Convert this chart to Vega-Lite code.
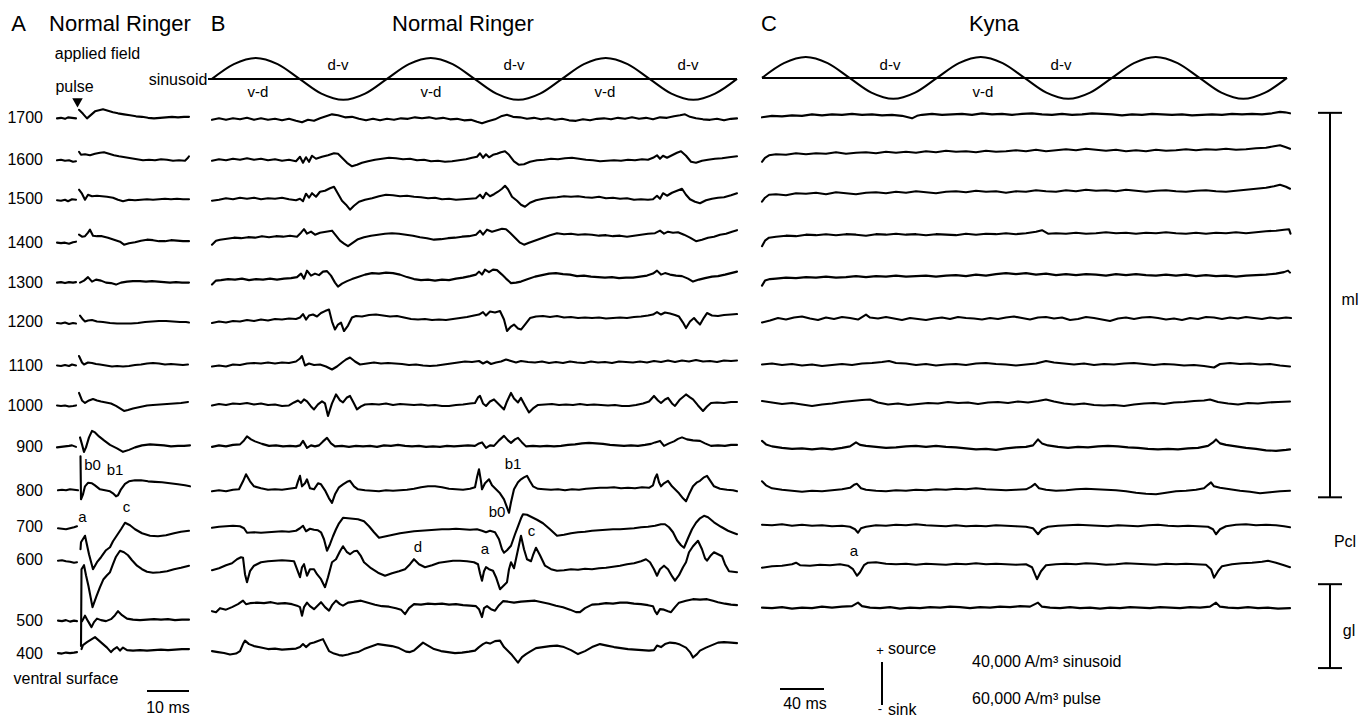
{
"$schema":"https://vega.github.io/schema/vega-lite/v6.json",
"width":1367,"height":718,
"autosize":{"type":"fit","contains":"padding"},
"padding":0,
"background":"white",
"config":{"view":{"stroke":null},"text":{"font":"Liberation Sans","color":"#000"}},
"encoding":{
"x":{"field":"x","type":"quantitative","scale":{"domain":[0,1367],"nice":false,"zero":false},"axis":null},
"y":{"field":"y","type":"quantitative","scale":{"domain":[0,718],"reverse":true,"nice":false,"zero":false},"axis":null}
},
"datasets":{
"traces":[
{"s":"a17p","x":57,"y":118.5},{"s":"a17p","x":61,"y":118},{"s":"a17p","x":65,"y":119},{"s":"a17p","x":68,"y":117.5},{"s":"a17p","x":72,"y":118},{"s":"a17p","x":76,"y":118.5},
{"s":"a17","x":79,"y":110},{"s":"a17","x":83,"y":114},{"s":"a17","x":87,"y":118.5},{"s":"a17","x":91,"y":115},{"s":"a17","x":95,"y":111.5},{"s":"a17","x":99,"y":110.5},{"s":"a17","x":103,"y":109.5},{"s":"a17","x":108,"y":111},{"s":"a17","x":113,"y":112.5},{"s":"a17","x":118,"y":113.5},{"s":"a17","x":124,"y":114.5},{"s":"a17","x":130,"y":115.5},{"s":"a17","x":136,"y":116.5},{"s":"a17","x":142,"y":117},{"s":"a17","x":148,"y":118},{"s":"a17","x":154,"y":118.5},{"s":"a17","x":160,"y":118},{"s":"a17","x":166,"y":117.5},{"s":"a17","x":172,"y":117},{"s":"a17","x":178,"y":117.5},{"s":"a17","x":184,"y":117},{"s":"a17","x":189,"y":117},
{"s":"a16p","x":57,"y":160.5},{"s":"a16p","x":61,"y":160},{"s":"a16p","x":65,"y":161},{"s":"a16p","x":69,"y":160.5},{"s":"a16p","x":73,"y":162},{"s":"a16p","x":76,"y":161.5},
{"s":"a16","x":79,"y":152},{"s":"a16","x":81,"y":155},{"s":"a16","x":85,"y":154.5},{"s":"a16","x":90,"y":155.5},{"s":"a16","x":95,"y":154},{"s":"a16","x":100,"y":153},{"s":"a16","x":104,"y":152.5},{"s":"a16","x":109,"y":154},{"s":"a16","x":114,"y":155.5},{"s":"a16","x":119,"y":156.5},{"s":"a16","x":125,"y":157.5},{"s":"a16","x":131,"y":158.5},{"s":"a16","x":137,"y":159.5},{"s":"a16","x":143,"y":160.5},{"s":"a16","x":149,"y":160},{"s":"a16","x":155,"y":160.5},{"s":"a16","x":161,"y":159.5},{"s":"a16","x":167,"y":160},{"s":"a16","x":173,"y":161},{"s":"a16","x":179,"y":160.5},{"s":"a16","x":185,"y":161},{"s":"a16","x":188,"y":158},{"s":"a16","x":189,"y":156.5},
{"s":"a15p","x":57,"y":200.5},{"s":"a15p","x":61,"y":201},{"s":"a15p","x":65,"y":200},{"s":"a15p","x":68,"y":201.5},{"s":"a15p","x":72,"y":199.5},{"s":"a15p","x":76,"y":200},
{"s":"a15","x":79,"y":190},{"s":"a15","x":82,"y":194},{"s":"a15","x":85,"y":200},{"s":"a15","x":88,"y":195},{"s":"a15","x":92,"y":196.5},{"s":"a15","x":97,"y":196},{"s":"a15","x":102,"y":196.5},{"s":"a15","x":107,"y":197},{"s":"a15","x":113,"y":198},{"s":"a15","x":118,"y":200},{"s":"a15","x":123,"y":201.5},{"s":"a15","x":129,"y":200},{"s":"a15","x":135,"y":200.5},{"s":"a15","x":141,"y":200},{"s":"a15","x":147,"y":199.5},{"s":"a15","x":153,"y":200},{"s":"a15","x":159,"y":199.5},{"s":"a15","x":165,"y":199},{"s":"a15","x":171,"y":199.5},{"s":"a15","x":177,"y":199},{"s":"a15","x":183,"y":199.5},{"s":"a15","x":189,"y":199.5},
{"s":"a14p","x":57,"y":243},{"s":"a14p","x":61,"y":243.5},{"s":"a14p","x":65,"y":243},{"s":"a14p","x":69,"y":244},{"s":"a14p","x":73,"y":242.5},{"s":"a14p","x":76,"y":242},
{"s":"a14","x":79,"y":235},{"s":"a14","x":82,"y":237},{"s":"a14","x":85,"y":236.5},{"s":"a14","x":88,"y":233},{"s":"a14","x":90,"y":230},{"s":"a14","x":93,"y":236},{"s":"a14","x":97,"y":236.5},{"s":"a14","x":102,"y":236.5},{"s":"a14","x":108,"y":238},{"s":"a14","x":114,"y":240},{"s":"a14","x":120,"y":242},{"s":"a14","x":124,"y":245},{"s":"a14","x":129,"y":243.5},{"s":"a14","x":135,"y":242.5},{"s":"a14","x":141,"y":241},{"s":"a14","x":147,"y":240},{"s":"a14","x":153,"y":240.5},{"s":"a14","x":159,"y":241.5},{"s":"a14","x":165,"y":241.5},{"s":"a14","x":171,"y":240.5},{"s":"a14","x":177,"y":241},{"s":"a14","x":183,"y":241.5},{"s":"a14","x":189,"y":241.5},
{"s":"a13p","x":57,"y":283},{"s":"a13p","x":61,"y":282.5},{"s":"a13p","x":65,"y":283.5},{"s":"a13p","x":69,"y":282.5},{"s":"a13p","x":73,"y":283},{"s":"a13p","x":76,"y":282.5},
{"s":"a13","x":80,"y":283},{"s":"a13","x":84,"y":281},{"s":"a13","x":88,"y":277.5},{"s":"a13","x":92,"y":282},{"s":"a13","x":96,"y":280},{"s":"a13","x":101,"y":281},{"s":"a13","x":106,"y":283},{"s":"a13","x":111,"y":283.5},{"s":"a13","x":116,"y":285},{"s":"a13","x":121,"y":283},{"s":"a13","x":127,"y":282},{"s":"a13","x":133,"y":281.5},{"s":"a13","x":140,"y":281.5},{"s":"a13","x":146,"y":282},{"s":"a13","x":152,"y":281.5},{"s":"a13","x":158,"y":282},{"s":"a13","x":164,"y":282.5},{"s":"a13","x":170,"y":283},{"s":"a13","x":176,"y":282.5},{"s":"a13","x":182,"y":283},{"s":"a13","x":189,"y":283},
{"s":"a12p","x":57,"y":323.5},{"s":"a12p","x":61,"y":324},{"s":"a12p","x":65,"y":323},{"s":"a12p","x":69,"y":324.5},{"s":"a12p","x":73,"y":323.5},{"s":"a12p","x":76,"y":324},
{"s":"a12","x":80,"y":316},{"s":"a12","x":83,"y":320},{"s":"a12","x":85,"y":322},{"s":"a12","x":88,"y":321},{"s":"a12","x":92,"y":320.5},{"s":"a12","x":97,"y":322},{"s":"a12","x":103,"y":322.5},{"s":"a12","x":110,"y":323.5},{"s":"a12","x":117,"y":324},{"s":"a12","x":124,"y":324},{"s":"a12","x":131,"y":324},{"s":"a12","x":138,"y":323.5},{"s":"a12","x":145,"y":322.5},{"s":"a12","x":152,"y":322},{"s":"a12","x":159,"y":321.5},{"s":"a12","x":166,"y":321.5},{"s":"a12","x":173,"y":322},{"s":"a12","x":180,"y":322.5},{"s":"a12","x":186,"y":322.5},{"s":"a12","x":189,"y":323},
{"s":"a11p","x":57,"y":366},{"s":"a11p","x":61,"y":366.5},{"s":"a11p","x":65,"y":365.5},{"s":"a11p","x":69,"y":366.5},{"s":"a11p","x":72,"y":365},{"s":"a11p","x":76,"y":366},
{"s":"a11","x":79,"y":356.5},{"s":"a11","x":82,"y":363},{"s":"a11","x":84,"y":365},{"s":"a11","x":88,"y":363},{"s":"a11","x":92,"y":363.5},{"s":"a11","x":96,"y":364.5},{"s":"a11","x":100,"y":365},{"s":"a11","x":106,"y":366},{"s":"a11","x":112,"y":367},{"s":"a11","x":117,"y":366.5},{"s":"a11","x":123,"y":367},{"s":"a11","x":129,"y":366.5},{"s":"a11","x":135,"y":365.5},{"s":"a11","x":141,"y":365},{"s":"a11","x":147,"y":364},{"s":"a11","x":153,"y":363.5},{"s":"a11","x":159,"y":364},{"s":"a11","x":165,"y":365},{"s":"a11","x":171,"y":364.5},{"s":"a11","x":177,"y":365},{"s":"a11","x":183,"y":365.5},{"s":"a11","x":188,"y":365},
{"s":"a10p","x":57,"y":406},{"s":"a10p","x":61,"y":406.5},{"s":"a10p","x":65,"y":406},{"s":"a10p","x":69,"y":407},{"s":"a10p","x":73,"y":406.5},{"s":"a10p","x":76,"y":406},
{"s":"a10","x":79,"y":393.5},{"s":"a10","x":82,"y":401},{"s":"a10","x":85,"y":403.5},{"s":"a10","x":89,"y":401},{"s":"a10","x":93,"y":399.5},{"s":"a10","x":97,"y":401},{"s":"a10","x":101,"y":402},{"s":"a10","x":106,"y":403},{"s":"a10","x":111,"y":404},{"s":"a10","x":116,"y":406.5},{"s":"a10","x":120,"y":409},{"s":"a10","x":124,"y":411.5},{"s":"a10","x":128,"y":410.5},{"s":"a10","x":133,"y":409},{"s":"a10","x":140,"y":407.5},{"s":"a10","x":147,"y":406},{"s":"a10","x":153,"y":405.5},{"s":"a10","x":160,"y":405},{"s":"a10","x":167,"y":404.5},{"s":"a10","x":174,"y":404},{"s":"a10","x":181,"y":403.5},{"s":"a10","x":188,"y":402.5},
{"s":"a09p","x":57,"y":448},{"s":"a09p","x":61,"y":447.5},{"s":"a09p","x":65,"y":447},{"s":"a09p","x":69,"y":446.5},{"s":"a09p","x":72,"y":446},{"s":"a09p","x":76,"y":447.5},
{"s":"a09","x":80,"y":438},{"s":"a09","x":82,"y":445},{"s":"a09","x":84,"y":452.5},{"s":"a09","x":86,"y":448},{"s":"a09","x":89,"y":438},{"s":"a09","x":92,"y":431.5},{"s":"a09","x":95,"y":433},{"s":"a09","x":99,"y":437},{"s":"a09","x":104,"y":441},{"s":"a09","x":110,"y":445.5},{"s":"a09","x":117,"y":449},{"s":"a09","x":123,"y":452.5},{"s":"a09","x":129,"y":450.5},{"s":"a09","x":135,"y":448},{"s":"a09","x":142,"y":446},{"s":"a09","x":150,"y":445},{"s":"a09","x":157,"y":445.5},{"s":"a09","x":164,"y":446},{"s":"a09","x":171,"y":447},{"s":"a09","x":178,"y":446.5},{"s":"a09","x":184,"y":446.5},{"s":"a09","x":190,"y":446},
{"s":"a08p","x":58,"y":491},{"s":"a08p","x":62,"y":490.5},{"s":"a08p","x":66,"y":491},{"s":"a08p","x":70,"y":490},{"s":"a08p","x":74,"y":490.5},{"s":"a08p","x":78,"y":491},
{"s":"a08","x":80.5,"y":457},{"s":"a08","x":81,"y":500},{"s":"a08","x":83,"y":495},{"s":"a08","x":85,"y":487},{"s":"a08","x":88,"y":483.5},{"s":"a08","x":92,"y":484},{"s":"a08","x":95,"y":486},{"s":"a08","x":100,"y":490},{"s":"a08","x":105,"y":491},{"s":"a08","x":110,"y":492},{"s":"a08","x":113,"y":494},{"s":"a08","x":116,"y":497},{"s":"a08","x":118,"y":496},{"s":"a08","x":121,"y":490},{"s":"a08","x":125,"y":484.5},{"s":"a08","x":129,"y":482},{"s":"a08","x":135,"y":481},{"s":"a08","x":141,"y":481},{"s":"a08","x":148,"y":482},{"s":"a08","x":155,"y":482.5},{"s":"a08","x":162,"y":483},{"s":"a08","x":170,"y":484},{"s":"a08","x":178,"y":485},{"s":"a08","x":185,"y":486},{"s":"a08","x":190,"y":487},
{"s":"a07p","x":58,"y":529},{"s":"a07p","x":62,"y":529.5},{"s":"a07p","x":66,"y":530},{"s":"a07p","x":70,"y":529},{"s":"a07p","x":74,"y":528},{"s":"a07p","x":77,"y":527},
{"s":"a07","x":80.5,"y":550},{"s":"a07","x":81,"y":543},{"s":"a07","x":85,"y":536.5},{"s":"a07","x":89,"y":555},{"s":"a07","x":93,"y":570},{"s":"a07","x":97,"y":563},{"s":"a07","x":101,"y":558},{"s":"a07","x":106,"y":551},{"s":"a07","x":110,"y":548},{"s":"a07","x":113,"y":542},{"s":"a07","x":117,"y":536},{"s":"a07","x":121,"y":530},{"s":"a07","x":125,"y":523.5},{"s":"a07","x":130,"y":526},{"s":"a07","x":135,"y":530},{"s":"a07","x":142,"y":534},{"s":"a07","x":150,"y":536.5},{"s":"a07","x":158,"y":537},{"s":"a07","x":166,"y":536},{"s":"a07","x":174,"y":534},{"s":"a07","x":181,"y":532.5},{"s":"a07","x":189,"y":531.5},
{"s":"a06p","x":58,"y":561.5},{"s":"a06p","x":62,"y":561},{"s":"a06p","x":66,"y":562},{"s":"a06p","x":70,"y":562.5},{"s":"a06p","x":74,"y":563.5},{"s":"a06p","x":77,"y":563},
{"s":"a06","x":81,"y":647},{"s":"a06","x":81.5,"y":570},{"s":"a06","x":84,"y":566},{"s":"a06","x":86,"y":576},{"s":"a06","x":88.5,"y":587},{"s":"a06","x":92.5,"y":608},{"s":"a06","x":96.5,"y":597},{"s":"a06","x":100,"y":588},{"s":"a06","x":103.5,"y":580},{"s":"a06","x":107,"y":576},{"s":"a06","x":110,"y":573},{"s":"a06","x":113,"y":565},{"s":"a06","x":116,"y":557.5},{"s":"a06","x":120,"y":551.5},{"s":"a06","x":124,"y":553},{"s":"a06","x":128,"y":556},{"s":"a06","x":132,"y":561},{"s":"a06","x":137,"y":566.5},{"s":"a06","x":142,"y":570},{"s":"a06","x":147,"y":572.5},{"s":"a06","x":153,"y":573.5},{"s":"a06","x":160,"y":573},{"s":"a06","x":167,"y":572},{"s":"a06","x":174,"y":570},{"s":"a06","x":181,"y":568.5},{"s":"a06","x":189,"y":566.5},
{"s":"a05p","x":58,"y":621.5},{"s":"a05p","x":62,"y":622},{"s":"a05p","x":66,"y":621},{"s":"a05p","x":70,"y":622.5},{"s":"a05p","x":74,"y":621.5},{"s":"a05p","x":77,"y":622},
{"s":"a05","x":82,"y":622},{"s":"a05","x":85,"y":616.5},{"s":"a05","x":88,"y":622},{"s":"a05","x":91.5,"y":628},{"s":"a05","x":94,"y":623},{"s":"a05","x":97,"y":619.5},{"s":"a05","x":101,"y":621},{"s":"a05","x":106,"y":622},{"s":"a05","x":111,"y":620},{"s":"a05","x":115,"y":616},{"s":"a05","x":118,"y":612},{"s":"a05","x":122,"y":616},{"s":"a05","x":127,"y":619.5},{"s":"a05","x":133,"y":620.5},{"s":"a05","x":140,"y":621},{"s":"a05","x":147,"y":620.5},{"s":"a05","x":154,"y":620},{"s":"a05","x":161,"y":620.5},{"s":"a05","x":168,"y":620},{"s":"a05","x":175,"y":621},{"s":"a05","x":182,"y":620.5},{"s":"a05","x":189,"y":620.5},
{"s":"a04p","x":58,"y":654},{"s":"a04p","x":62,"y":654.5},{"s":"a04p","x":66,"y":653.5},{"s":"a04p","x":70,"y":654},{"s":"a04p","x":74,"y":653.5},{"s":"a04p","x":77,"y":653},
{"s":"a04","x":81.5,"y":650},{"s":"a04","x":83,"y":646},{"s":"a04","x":87,"y":643},{"s":"a04","x":91,"y":640.5},{"s":"a04","x":95,"y":638},{"s":"a04","x":99,"y":641.5},{"s":"a04","x":103,"y":645},{"s":"a04","x":107,"y":648.5},{"s":"a04","x":111,"y":653},{"s":"a04","x":114,"y":650},{"s":"a04","x":117,"y":648},{"s":"a04","x":120,"y":651.5},{"s":"a04","x":123,"y":648.5},{"s":"a04","x":127,"y":651},{"s":"a04","x":133,"y":651.5},{"s":"a04","x":140,"y":651},{"s":"a04","x":147,"y":651.5},{"s":"a04","x":154,"y":651},{"s":"a04","x":161,"y":650.5},{"s":"a04","x":168,"y":651},{"s":"a04","x":175,"y":650.5},{"s":"a04","x":182,"y":650},{"s":"a04","x":189,"y":650},

{"s":"b17","x":212,"y":120},{"s":"b17","x":219,"y":118.5},{"s":"b17","x":226,"y":120},{"s":"b17","x":233,"y":118.5},{"s":"b17","x":240,"y":119.5},{"s":"b17","x":247,"y":118},{"s":"b17","x":254,"y":120},{"s":"b17","x":261,"y":118.5},{"s":"b17","x":268,"y":120},{"s":"b17","x":275,"y":119},{"s":"b17","x":282,"y":120.5},{"s":"b17","x":289,"y":119},{"s":"b17","x":296,"y":121},{"s":"b17","x":302,"y":122.5},{"s":"b17","x":308,"y":120},{"s":"b17","x":314,"y":121},{"s":"b17","x":320,"y":118.5},{"s":"b17","x":326,"y":116.5},{"s":"b17","x":332,"y":114.5},{"s":"b17","x":338,"y":115.5},{"s":"b17","x":345,"y":117.5},{"s":"b17","x":352,"y":117},{"s":"b17","x":359,"y":119},{"s":"b17","x":366,"y":120.5},{"s":"b17","x":373,"y":119},{"s":"b17","x":380,"y":120.5},{"s":"b17","x":387,"y":119},{"s":"b17","x":394,"y":120},{"s":"b17","x":401,"y":118.5},{"s":"b17","x":408,"y":119},{"s":"b17","x":415,"y":117.5},{"s":"b17","x":422,"y":118.5},{"s":"b17","x":429,"y":117.5},{"s":"b17","x":436,"y":119},{"s":"b17","x":443,"y":118},{"s":"b17","x":450,"y":119.5},{"s":"b17","x":457,"y":119},{"s":"b17","x":464,"y":120.5},{"s":"b17","x":471,"y":120},{"s":"b17","x":477,"y":122},{"s":"b17","x":482,"y":123.5},{"s":"b17","x":488,"y":121.5},{"s":"b17","x":495,"y":119.5},{"s":"b17","x":501,"y":116.5},{"s":"b17","x":507,"y":115},{"s":"b17","x":513,"y":117},{"s":"b17","x":520,"y":117.5},{"s":"b17","x":527,"y":119},{"s":"b17","x":534,"y":118},{"s":"b17","x":541,"y":119.5},{"s":"b17","x":548,"y":118.5},{"s":"b17","x":555,"y":120},{"s":"b17","x":562,"y":119},{"s":"b17","x":569,"y":120.5},{"s":"b17","x":576,"y":121},{"s":"b17","x":583,"y":119.5},{"s":"b17","x":590,"y":120.5},{"s":"b17","x":597,"y":119},{"s":"b17","x":604,"y":118.5},{"s":"b17","x":611,"y":119.5},{"s":"b17","x":618,"y":118},{"s":"b17","x":625,"y":119},{"s":"b17","x":632,"y":117.5},{"s":"b17","x":639,"y":119},{"s":"b17","x":646,"y":118},{"s":"b17","x":653,"y":119.5},{"s":"b17","x":660,"y":117.5},{"s":"b17","x":667,"y":118},{"s":"b17","x":674,"y":116.5},{"s":"b17","x":680,"y":115.5},{"s":"b17","x":685,"y":114.5},{"s":"b17","x":690,"y":117},{"s":"b17","x":696,"y":118.5},{"s":"b17","x":703,"y":119.5},{"s":"b17","x":710,"y":120},{"s":"b17","x":717,"y":119},{"s":"b17","x":724,"y":120.5},{"s":"b17","x":731,"y":119},{"s":"b17","x":737,"y":118.5},

{"s":"b16","x":212,"y":161},{"s":"b16","x":219,"y":159.5},{"s":"b16","x":226,"y":160.5},{"s":"b16","x":233,"y":159},{"s":"b16","x":240,"y":160},{"s":"b16","x":247,"y":158.5},{"s":"b16","x":254,"y":160},{"s":"b16","x":261,"y":159},{"s":"b16","x":268,"y":160.5},{"s":"b16","x":275,"y":159.5},{"s":"b16","x":282,"y":161},{"s":"b16","x":289,"y":160},{"s":"b16","x":296,"y":161.5},{"s":"b16","x":300,"y":157},{"s":"b16","x":303,"y":163},{"s":"b16","x":306,"y":157.5},{"s":"b16","x":309,"y":162},{"s":"b16","x":312,"y":156},{"s":"b16","x":316,"y":159},{"s":"b16","x":322,"y":157},{"s":"b16","x":328,"y":155.5},{"s":"b16","x":334,"y":153.5},{"s":"b16","x":338,"y":154},{"s":"b16","x":342,"y":158},{"s":"b16","x":347,"y":163},{"s":"b16","x":352,"y":166.5},{"s":"b16","x":357,"y":165},{"s":"b16","x":362,"y":163},{"s":"b16","x":368,"y":161.5},{"s":"b16","x":375,"y":160},{"s":"b16","x":382,"y":159},{"s":"b16","x":389,"y":158},{"s":"b16","x":396,"y":158.5},{"s":"b16","x":403,"y":159.5},{"s":"b16","x":410,"y":159},{"s":"b16","x":417,"y":160.5},{"s":"b16","x":424,"y":160},{"s":"b16","x":431,"y":161.5},{"s":"b16","x":438,"y":161},{"s":"b16","x":445,"y":162},{"s":"b16","x":452,"y":161.5},{"s":"b16","x":459,"y":160.5},{"s":"b16","x":466,"y":159.5},{"s":"b16","x":472,"y":158},{"s":"b16","x":477,"y":157},{"s":"b16","x":480,"y":153.5},{"s":"b16","x":483,"y":158},{"s":"b16","x":486,"y":154.5},{"s":"b16","x":489,"y":157.5},{"s":"b16","x":493,"y":155},{"s":"b16","x":497,"y":154},{"s":"b16","x":501,"y":152.5},{"s":"b16","x":505,"y":151.5},{"s":"b16","x":509,"y":155},{"s":"b16","x":514,"y":161.5},{"s":"b16","x":519,"y":165},{"s":"b16","x":524,"y":164.5},{"s":"b16","x":530,"y":162},{"s":"b16","x":537,"y":160.5},{"s":"b16","x":544,"y":160},{"s":"b16","x":551,"y":159},{"s":"b16","x":558,"y":159.5},{"s":"b16","x":565,"y":158.5},{"s":"b16","x":572,"y":158},{"s":"b16","x":579,"y":159},{"s":"b16","x":586,"y":160},{"s":"b16","x":593,"y":160.5},{"s":"b16","x":600,"y":161.5},{"s":"b16","x":607,"y":161},{"s":"b16","x":614,"y":160.5},{"s":"b16","x":621,"y":161},{"s":"b16","x":628,"y":160},{"s":"b16","x":635,"y":160.5},{"s":"b16","x":642,"y":159.5},{"s":"b16","x":648,"y":160},{"s":"b16","x":653,"y":158},{"s":"b16","x":657,"y":155.5},{"s":"b16","x":660,"y":159},{"s":"b16","x":663,"y":156},{"s":"b16","x":667,"y":158},{"s":"b16","x":672,"y":155.5},{"s":"b16","x":677,"y":153},{"s":"b16","x":681,"y":151.5},{"s":"b16","x":686,"y":156},{"s":"b16","x":691,"y":162},{"s":"b16","x":696,"y":163},{"s":"b16","x":702,"y":161},{"s":"b16","x":708,"y":160},{"s":"b16","x":715,"y":159},{"s":"b16","x":722,"y":158.5},{"s":"b16","x":729,"y":157.5},{"s":"b16","x":737,"y":156.5},

{"s":"b15","x":212,"y":201},{"s":"b15","x":219,"y":200},{"s":"b15","x":226,"y":198.5},{"s":"b15","x":233,"y":199.5},{"s":"b15","x":240,"y":198},{"s":"b15","x":247,"y":199},{"s":"b15","x":254,"y":198},{"s":"b15","x":261,"y":199.5},{"s":"b15","x":268,"y":198.5},{"s":"b15","x":275,"y":199},{"s":"b15","x":282,"y":198},{"s":"b15","x":289,"y":199.5},{"s":"b15","x":296,"y":200.5},{"s":"b15","x":300,"y":199},{"s":"b15","x":303,"y":201.5},{"s":"b15","x":306,"y":194},{"s":"b15","x":309,"y":198},{"s":"b15","x":312,"y":193.5},{"s":"b15","x":316,"y":197},{"s":"b15","x":320,"y":192},{"s":"b15","x":325,"y":191},{"s":"b15","x":330,"y":188.5},{"s":"b15","x":334,"y":187},{"s":"b15","x":338,"y":194},{"s":"b15","x":342,"y":201},{"s":"b15","x":346,"y":205},{"s":"b15","x":350,"y":210},{"s":"b15","x":354,"y":206},{"s":"b15","x":359,"y":202},{"s":"b15","x":365,"y":200},{"s":"b15","x":372,"y":198.5},{"s":"b15","x":379,"y":196.5},{"s":"b15","x":386,"y":195},{"s":"b15","x":393,"y":195.5},{"s":"b15","x":400,"y":196.5},{"s":"b15","x":407,"y":196},{"s":"b15","x":414,"y":197},{"s":"b15","x":421,"y":197.5},{"s":"b15","x":428,"y":198.5},{"s":"b15","x":435,"y":198},{"s":"b15","x":442,"y":199.5},{"s":"b15","x":449,"y":199},{"s":"b15","x":456,"y":200},{"s":"b15","x":463,"y":199.5},{"s":"b15","x":470,"y":199},{"s":"b15","x":476,"y":198.5},{"s":"b15","x":480,"y":195},{"s":"b15","x":483,"y":198.5},{"s":"b15","x":486,"y":193},{"s":"b15","x":490,"y":196.5},{"s":"b15","x":494,"y":194.5},{"s":"b15","x":498,"y":192},{"s":"b15","x":502,"y":189},{"s":"b15","x":505,"y":186},{"s":"b15","x":508,"y":189.5},{"s":"b15","x":512,"y":197},{"s":"b15","x":517,"y":201},{"s":"b15","x":521,"y":205},{"s":"b15","x":525,"y":207},{"s":"b15","x":530,"y":203},{"s":"b15","x":536,"y":200.5},{"s":"b15","x":543,"y":199},{"s":"b15","x":550,"y":198},{"s":"b15","x":557,"y":197.5},{"s":"b15","x":564,"y":196.5},{"s":"b15","x":571,"y":197},{"s":"b15","x":578,"y":196.5},{"s":"b15","x":585,"y":197.5},{"s":"b15","x":592,"y":198},{"s":"b15","x":599,"y":197},{"s":"b15","x":606,"y":198.5},{"s":"b15","x":613,"y":198},{"s":"b15","x":620,"y":199},{"s":"b15","x":627,"y":198.5},{"s":"b15","x":634,"y":200},{"s":"b15","x":641,"y":199.5},{"s":"b15","x":648,"y":200},{"s":"b15","x":653,"y":199.5},{"s":"b15","x":657,"y":196},{"s":"b15","x":660,"y":199},{"s":"b15","x":663,"y":193.5},{"s":"b15","x":667,"y":196},{"s":"b15","x":672,"y":193},{"s":"b15","x":677,"y":191},{"s":"b15","x":682,"y":189},{"s":"b15","x":686,"y":195},{"s":"b15","x":690,"y":199.5},{"s":"b15","x":695,"y":202},{"s":"b15","x":700,"y":203.5},{"s":"b15","x":706,"y":200.5},{"s":"b15","x":712,"y":199},{"s":"b15","x":718,"y":198},{"s":"b15","x":724,"y":197.5},{"s":"b15","x":731,"y":195.5},{"s":"b15","x":737,"y":193.5},

{"s":"b14","x":212,"y":245},{"s":"b14","x":216,"y":241},{"s":"b14","x":220,"y":240},{"s":"b14","x":227,"y":239},{"s":"b14","x":234,"y":238},{"s":"b14","x":241,"y":238.5},{"s":"b14","x":248,"y":237.5},{"s":"b14","x":255,"y":238},{"s":"b14","x":262,"y":236.5},{"s":"b14","x":269,"y":237.5},{"s":"b14","x":276,"y":236.5},{"s":"b14","x":283,"y":237},{"s":"b14","x":290,"y":236},{"s":"b14","x":297,"y":237},{"s":"b14","x":301,"y":233},{"s":"b14","x":304,"y":229.5},{"s":"b14","x":307,"y":234},{"s":"b14","x":311,"y":232},{"s":"b14","x":315,"y":235},{"s":"b14","x":320,"y":233},{"s":"b14","x":326,"y":232},{"s":"b14","x":332,"y":231},{"s":"b14","x":336,"y":236},{"s":"b14","x":340,"y":241},{"s":"b14","x":344,"y":244},{"s":"b14","x":348,"y":246.5},{"s":"b14","x":353,"y":243},{"s":"b14","x":358,"y":239.5},{"s":"b14","x":364,"y":237.5},{"s":"b14","x":371,"y":236},{"s":"b14","x":378,"y":235},{"s":"b14","x":385,"y":234},{"s":"b14","x":392,"y":233.5},{"s":"b14","x":399,"y":234},{"s":"b14","x":406,"y":235},{"s":"b14","x":413,"y":236},{"s":"b14","x":420,"y":237.5},{"s":"b14","x":427,"y":238.5},{"s":"b14","x":434,"y":240},{"s":"b14","x":441,"y":239.5},{"s":"b14","x":448,"y":238.5},{"s":"b14","x":455,"y":238},{"s":"b14","x":462,"y":237},{"s":"b14","x":469,"y":236.5},{"s":"b14","x":476,"y":235},{"s":"b14","x":480,"y":231},{"s":"b14","x":483,"y":235},{"s":"b14","x":487,"y":230},{"s":"b14","x":492,"y":232},{"s":"b14","x":497,"y":230.5},{"s":"b14","x":502,"y":229},{"s":"b14","x":506,"y":229.5},{"s":"b14","x":510,"y":233},{"s":"b14","x":515,"y":238},{"s":"b14","x":520,"y":243},{"s":"b14","x":524,"y":245},{"s":"b14","x":529,"y":243},{"s":"b14","x":536,"y":240.5},{"s":"b14","x":543,"y":238},{"s":"b14","x":550,"y":235.5},{"s":"b14","x":557,"y":233.5},{"s":"b14","x":564,"y":234.5},{"s":"b14","x":571,"y":234},{"s":"b14","x":578,"y":235},{"s":"b14","x":585,"y":234.5},{"s":"b14","x":592,"y":235},{"s":"b14","x":599,"y":236},{"s":"b14","x":606,"y":235.5},{"s":"b14","x":613,"y":236.5},{"s":"b14","x":620,"y":236},{"s":"b14","x":627,"y":237},{"s":"b14","x":634,"y":236},{"s":"b14","x":641,"y":235},{"s":"b14","x":648,"y":234},{"s":"b14","x":655,"y":233.5},{"s":"b14","x":660,"y":231},{"s":"b14","x":664,"y":234},{"s":"b14","x":668,"y":232},{"s":"b14","x":673,"y":233},{"s":"b14","x":678,"y":232.5},{"s":"b14","x":684,"y":235},{"s":"b14","x":690,"y":238},{"s":"b14","x":696,"y":241.5},{"s":"b14","x":702,"y":240},{"s":"b14","x":708,"y":238},{"s":"b14","x":714,"y":237},{"s":"b14","x":720,"y":235},{"s":"b14","x":726,"y":234},{"s":"b14","x":732,"y":232},{"s":"b14","x":737,"y":230.5},

{"s":"b13","x":212,"y":285},{"s":"b13","x":216,"y":281},{"s":"b13","x":221,"y":280.5},{"s":"b13","x":228,"y":279.5},{"s":"b13","x":235,"y":280},{"s":"b13","x":242,"y":279},{"s":"b13","x":249,"y":280.5},{"s":"b13","x":256,"y":279.5},{"s":"b13","x":263,"y":280},{"s":"b13","x":270,"y":279},{"s":"b13","x":277,"y":280},{"s":"b13","x":284,"y":279},{"s":"b13","x":291,"y":278.5},{"s":"b13","x":297,"y":277.5},{"s":"b13","x":301,"y":274},{"s":"b13","x":304,"y":279},{"s":"b13","x":307,"y":271},{"s":"b13","x":311,"y":276},{"s":"b13","x":315,"y":274},{"s":"b13","x":319,"y":275.5},{"s":"b13","x":323,"y":272},{"s":"b13","x":327,"y":271.5},{"s":"b13","x":331,"y":276},{"s":"b13","x":335,"y":283},{"s":"b13","x":338,"y":287},{"s":"b13","x":342,"y":284},{"s":"b13","x":347,"y":281.5},{"s":"b13","x":352,"y":279.5},{"s":"b13","x":358,"y":277.5},{"s":"b13","x":365,"y":275},{"s":"b13","x":372,"y":273.5},{"s":"b13","x":379,"y":274},{"s":"b13","x":386,"y":273},{"s":"b13","x":393,"y":273.5},{"s":"b13","x":400,"y":275},{"s":"b13","x":407,"y":277.5},{"s":"b13","x":414,"y":279.5},{"s":"b13","x":421,"y":280.5},{"s":"b13","x":428,"y":280},{"s":"b13","x":435,"y":281},{"s":"b13","x":442,"y":280},{"s":"b13","x":449,"y":280.5},{"s":"b13","x":456,"y":279},{"s":"b13","x":463,"y":278},{"s":"b13","x":470,"y":276.5},{"s":"b13","x":476,"y":275},{"s":"b13","x":479,"y":272},{"s":"b13","x":482,"y":275},{"s":"b13","x":485,"y":270},{"s":"b13","x":489,"y":272.5},{"s":"b13","x":493,"y":270},{"s":"b13","x":497,"y":270.5},{"s":"b13","x":502,"y":275},{"s":"b13","x":506,"y":279},{"s":"b13","x":511,"y":283.5},{"s":"b13","x":516,"y":283},{"s":"b13","x":521,"y":282},{"s":"b13","x":528,"y":279.5},{"s":"b13","x":535,"y":277},{"s":"b13","x":542,"y":275.5},{"s":"b13","x":549,"y":274},{"s":"b13","x":556,"y":273.5},{"s":"b13","x":563,"y":274.5},{"s":"b13","x":570,"y":275},{"s":"b13","x":577,"y":276.5},{"s":"b13","x":584,"y":276},{"s":"b13","x":591,"y":277},{"s":"b13","x":598,"y":277.5},{"s":"b13","x":605,"y":278},{"s":"b13","x":612,"y":277.5},{"s":"b13","x":619,"y":278.5},{"s":"b13","x":626,"y":278},{"s":"b13","x":633,"y":278},{"s":"b13","x":640,"y":277},{"s":"b13","x":647,"y":276},{"s":"b13","x":653,"y":274},{"s":"b13","x":657,"y":271},{"s":"b13","x":661,"y":275},{"s":"b13","x":665,"y":273.5},{"s":"b13","x":670,"y":275},{"s":"b13","x":676,"y":276},{"s":"b13","x":682,"y":276.5},{"s":"b13","x":688,"y":279},{"s":"b13","x":693,"y":282},{"s":"b13","x":699,"y":280},{"s":"b13","x":705,"y":278.5},{"s":"b13","x":712,"y":277},{"s":"b13","x":718,"y":276.5},{"s":"b13","x":725,"y":275},{"s":"b13","x":731,"y":273.5},{"s":"b13","x":737,"y":272},

{"s":"b12","x":212,"y":323.5},{"s":"b12","x":219,"y":322},{"s":"b12","x":226,"y":323},{"s":"b12","x":233,"y":321.5},{"s":"b12","x":240,"y":322},{"s":"b12","x":247,"y":320.5},{"s":"b12","x":254,"y":321.5},{"s":"b12","x":261,"y":320},{"s":"b12","x":268,"y":321},{"s":"b12","x":275,"y":319.5},{"s":"b12","x":282,"y":320},{"s":"b12","x":289,"y":319},{"s":"b12","x":296,"y":319.5},{"s":"b12","x":300,"y":318},{"s":"b12","x":303,"y":314.5},{"s":"b12","x":306,"y":320},{"s":"b12","x":309,"y":316},{"s":"b12","x":313,"y":315},{"s":"b12","x":317,"y":317},{"s":"b12","x":321,"y":313.5},{"s":"b12","x":325,"y":311.5},{"s":"b12","x":329,"y":310},{"s":"b12","x":332,"y":322},{"s":"b12","x":335,"y":330},{"s":"b12","x":338,"y":325},{"s":"b12","x":341,"y":323},{"s":"b12","x":344,"y":331.5},{"s":"b12","x":348,"y":326},{"s":"b12","x":352,"y":318},{"s":"b12","x":356,"y":316.5},{"s":"b12","x":362,"y":317},{"s":"b12","x":369,"y":315.5},{"s":"b12","x":376,"y":315},{"s":"b12","x":383,"y":316},{"s":"b12","x":390,"y":317},{"s":"b12","x":397,"y":316.5},{"s":"b12","x":404,"y":318},{"s":"b12","x":411,"y":319.5},{"s":"b12","x":418,"y":320},{"s":"b12","x":425,"y":319.5},{"s":"b12","x":432,"y":320.5},{"s":"b12","x":439,"y":320},{"s":"b12","x":446,"y":320.5},{"s":"b12","x":453,"y":319.5},{"s":"b12","x":460,"y":318.5},{"s":"b12","x":467,"y":317.5},{"s":"b12","x":474,"y":316},{"s":"b12","x":479,"y":315},{"s":"b12","x":483,"y":312.5},{"s":"b12","x":486,"y":316},{"s":"b12","x":490,"y":312},{"s":"b12","x":495,"y":313},{"s":"b12","x":500,"y":311.5},{"s":"b12","x":504,"y":320},{"s":"b12","x":507,"y":331.5},{"s":"b12","x":511,"y":327},{"s":"b12","x":514,"y":325},{"s":"b12","x":518,"y":329},{"s":"b12","x":521,"y":330},{"s":"b12","x":525,"y":325},{"s":"b12","x":530,"y":318.5},{"s":"b12","x":536,"y":317},{"s":"b12","x":543,"y":316.5},{"s":"b12","x":550,"y":317.5},{"s":"b12","x":557,"y":316.5},{"s":"b12","x":564,"y":318},{"s":"b12","x":571,"y":317.5},{"s":"b12","x":578,"y":318.5},{"s":"b12","x":585,"y":318},{"s":"b12","x":592,"y":318.5},{"s":"b12","x":599,"y":318},{"s":"b12","x":606,"y":319},{"s":"b12","x":613,"y":318.5},{"s":"b12","x":620,"y":318},{"s":"b12","x":627,"y":318.5},{"s":"b12","x":634,"y":317.5},{"s":"b12","x":641,"y":317},{"s":"b12","x":648,"y":316},{"s":"b12","x":653,"y":315},{"s":"b12","x":657,"y":312.5},{"s":"b12","x":661,"y":315},{"s":"b12","x":665,"y":313},{"s":"b12","x":670,"y":314},{"s":"b12","x":675,"y":315.5},{"s":"b12","x":679,"y":317},{"s":"b12","x":683,"y":323},{"s":"b12","x":686,"y":328.5},{"s":"b12","x":690,"y":322},{"s":"b12","x":694,"y":318.5},{"s":"b12","x":697,"y":322},{"s":"b12","x":700,"y":325},{"s":"b12","x":704,"y":318},{"s":"b12","x":707,"y":313.5},{"s":"b12","x":712,"y":316},{"s":"b12","x":718,"y":316.5},{"s":"b12","x":724,"y":315.5},{"s":"b12","x":731,"y":315},{"s":"b12","x":737,"y":314.5},

{"s":"b11","x":212,"y":367},{"s":"b11","x":219,"y":366},{"s":"b11","x":226,"y":367},{"s":"b11","x":233,"y":365},{"s":"b11","x":240,"y":365.5},{"s":"b11","x":247,"y":364},{"s":"b11","x":254,"y":363.5},{"s":"b11","x":261,"y":364},{"s":"b11","x":268,"y":363},{"s":"b11","x":275,"y":364},{"s":"b11","x":282,"y":363},{"s":"b11","x":289,"y":363.5},{"s":"b11","x":296,"y":362},{"s":"b11","x":300,"y":359},{"s":"b11","x":302,"y":356.5},{"s":"b11","x":305,"y":366},{"s":"b11","x":309,"y":364},{"s":"b11","x":314,"y":365.5},{"s":"b11","x":320,"y":365},{"s":"b11","x":326,"y":367},{"s":"b11","x":332,"y":370},{"s":"b11","x":337,"y":367},{"s":"b11","x":342,"y":363},{"s":"b11","x":346,"y":360},{"s":"b11","x":350,"y":358},{"s":"b11","x":355,"y":362},{"s":"b11","x":360,"y":365},{"s":"b11","x":367,"y":364},{"s":"b11","x":374,"y":363},{"s":"b11","x":381,"y":364},{"s":"b11","x":388,"y":363.5},{"s":"b11","x":395,"y":364},{"s":"b11","x":402,"y":364.5},{"s":"b11","x":409,"y":365.5},{"s":"b11","x":416,"y":365},{"s":"b11","x":423,"y":366},{"s":"b11","x":430,"y":366.5},{"s":"b11","x":437,"y":366},{"s":"b11","x":444,"y":365},{"s":"b11","x":451,"y":364},{"s":"b11","x":458,"y":363},{"s":"b11","x":465,"y":362},{"s":"b11","x":472,"y":362.5},{"s":"b11","x":479,"y":361.5},{"s":"b11","x":483,"y":364},{"s":"b11","x":487,"y":362},{"s":"b11","x":491,"y":364.5},{"s":"b11","x":496,"y":363},{"s":"b11","x":501,"y":362},{"s":"b11","x":506,"y":360},{"s":"b11","x":511,"y":361.5},{"s":"b11","x":516,"y":363},{"s":"b11","x":521,"y":361.5},{"s":"b11","x":528,"y":362.5},{"s":"b11","x":535,"y":363},{"s":"b11","x":542,"y":362},{"s":"b11","x":549,"y":363.5},{"s":"b11","x":556,"y":362.5},{"s":"b11","x":563,"y":363.5},{"s":"b11","x":570,"y":362},{"s":"b11","x":577,"y":363},{"s":"b11","x":584,"y":363.5},{"s":"b11","x":591,"y":362},{"s":"b11","x":598,"y":363},{"s":"b11","x":605,"y":362.5},{"s":"b11","x":612,"y":363.5},{"s":"b11","x":619,"y":362},{"s":"b11","x":626,"y":362.5},{"s":"b11","x":633,"y":363},{"s":"b11","x":640,"y":362},{"s":"b11","x":647,"y":363},{"s":"b11","x":654,"y":361.5},{"s":"b11","x":661,"y":362.5},{"s":"b11","x":668,"y":361},{"s":"b11","x":675,"y":362.5},{"s":"b11","x":682,"y":361},{"s":"b11","x":689,"y":362},{"s":"b11","x":696,"y":360.5},{"s":"b11","x":703,"y":362},{"s":"b11","x":710,"y":361.5},{"s":"b11","x":717,"y":362.5},{"s":"b11","x":724,"y":361},{"s":"b11","x":731,"y":361.5},{"s":"b11","x":737,"y":361},

{"s":"b10","x":212,"y":406},{"s":"b10","x":219,"y":404.5},{"s":"b10","x":226,"y":405.5},{"s":"b10","x":233,"y":404},{"s":"b10","x":240,"y":404.5},{"s":"b10","x":247,"y":403.5},{"s":"b10","x":254,"y":405},{"s":"b10","x":261,"y":404},{"s":"b10","x":268,"y":405.5},{"s":"b10","x":275,"y":405},{"s":"b10","x":282,"y":406.5},{"s":"b10","x":289,"y":406},{"s":"b10","x":294,"y":403},{"s":"b10","x":298,"y":401},{"s":"b10","x":301,"y":403.5},{"s":"b10","x":304,"y":400},{"s":"b10","x":307,"y":402},{"s":"b10","x":311,"y":407},{"s":"b10","x":314,"y":410},{"s":"b10","x":318,"y":405},{"s":"b10","x":322,"y":402},{"s":"b10","x":325,"y":404},{"s":"b10","x":328,"y":416.5},{"s":"b10","x":332,"y":404},{"s":"b10","x":336,"y":395},{"s":"b10","x":340,"y":401},{"s":"b10","x":343,"y":403},{"s":"b10","x":347,"y":398},{"s":"b10","x":350,"y":396.5},{"s":"b10","x":354,"y":404},{"s":"b10","x":357,"y":410},{"s":"b10","x":361,"y":407},{"s":"b10","x":365,"y":405},{"s":"b10","x":372,"y":404.5},{"s":"b10","x":379,"y":405},{"s":"b10","x":386,"y":404},{"s":"b10","x":393,"y":405.5},{"s":"b10","x":400,"y":404.5},{"s":"b10","x":407,"y":405},{"s":"b10","x":414,"y":405.5},{"s":"b10","x":421,"y":405},{"s":"b10","x":428,"y":406},{"s":"b10","x":435,"y":405.5},{"s":"b10","x":442,"y":406.5},{"s":"b10","x":449,"y":406.5},{"s":"b10","x":456,"y":405.5},{"s":"b10","x":463,"y":405},{"s":"b10","x":470,"y":404},{"s":"b10","x":475,"y":403.5},{"s":"b10","x":478,"y":398},{"s":"b10","x":480,"y":396.5},{"s":"b10","x":483,"y":404},{"s":"b10","x":486,"y":406.5},{"s":"b10","x":490,"y":402},{"s":"b10","x":494,"y":400},{"s":"b10","x":498,"y":404},{"s":"b10","x":502,"y":408},{"s":"b10","x":504,"y":410},{"s":"b10","x":507,"y":402},{"s":"b10","x":511,"y":393.5},{"s":"b10","x":514,"y":399},{"s":"b10","x":518,"y":403},{"s":"b10","x":521,"y":398.5},{"s":"b10","x":525,"y":406},{"s":"b10","x":529,"y":413},{"s":"b10","x":533,"y":409},{"s":"b10","x":538,"y":405.5},{"s":"b10","x":545,"y":405},{"s":"b10","x":552,"y":404.5},{"s":"b10","x":559,"y":405.5},{"s":"b10","x":566,"y":405},{"s":"b10","x":573,"y":405.5},{"s":"b10","x":580,"y":404.5},{"s":"b10","x":587,"y":405.5},{"s":"b10","x":594,"y":405},{"s":"b10","x":601,"y":405.5},{"s":"b10","x":608,"y":406},{"s":"b10","x":615,"y":405.5},{"s":"b10","x":622,"y":406.5},{"s":"b10","x":629,"y":406.5},{"s":"b10","x":636,"y":405.5},{"s":"b10","x":643,"y":404},{"s":"b10","x":649,"y":402},{"s":"b10","x":654,"y":396.5},{"s":"b10","x":658,"y":401},{"s":"b10","x":661,"y":403.5},{"s":"b10","x":665,"y":400},{"s":"b10","x":668,"y":398.5},{"s":"b10","x":672,"y":404},{"s":"b10","x":675,"y":406.5},{"s":"b10","x":680,"y":400},{"s":"b10","x":686,"y":395},{"s":"b10","x":690,"y":398},{"s":"b10","x":693,"y":400},{"s":"b10","x":698,"y":406},{"s":"b10","x":703,"y":411.5},{"s":"b10","x":707,"y":407},{"s":"b10","x":711,"y":403.5},{"s":"b10","x":717,"y":403},{"s":"b10","x":724,"y":403.5},{"s":"b10","x":731,"y":402.5},{"s":"b10","x":737,"y":402.5},

{"s":"b09","x":212,"y":447.5},{"s":"b09","x":219,"y":446},{"s":"b09","x":226,"y":447},{"s":"b09","x":233,"y":445.5},{"s":"b09","x":240,"y":445},{"s":"b09","x":244,"y":441},{"s":"b09","x":247,"y":437},{"s":"b09","x":251,"y":440},{"s":"b09","x":255,"y":442},{"s":"b09","x":262,"y":444.5},{"s":"b09","x":269,"y":446.5},{"s":"b09","x":276,"y":446},{"s":"b09","x":283,"y":447},{"s":"b09","x":290,"y":446.5},{"s":"b09","x":296,"y":447},{"s":"b09","x":300,"y":446},{"s":"b09","x":303,"y":441.5},{"s":"b09","x":307,"y":448.5},{"s":"b09","x":311,"y":446},{"s":"b09","x":315,"y":447},{"s":"b09","x":319,"y":446},{"s":"b09","x":323,"y":442},{"s":"b09","x":327,"y":438.5},{"s":"b09","x":331,"y":444},{"s":"b09","x":335,"y":447},{"s":"b09","x":342,"y":446.5},{"s":"b09","x":349,"y":447.5},{"s":"b09","x":356,"y":446.5},{"s":"b09","x":363,"y":447},{"s":"b09","x":370,"y":446.5},{"s":"b09","x":377,"y":447.5},{"s":"b09","x":384,"y":446},{"s":"b09","x":391,"y":446.5},{"s":"b09","x":398,"y":445.5},{"s":"b09","x":405,"y":446.5},{"s":"b09","x":412,"y":447},{"s":"b09","x":419,"y":446.5},{"s":"b09","x":426,"y":447.5},{"s":"b09","x":433,"y":447},{"s":"b09","x":440,"y":447.5},{"s":"b09","x":447,"y":446.5},{"s":"b09","x":454,"y":447},{"s":"b09","x":461,"y":446.5},{"s":"b09","x":468,"y":446},{"s":"b09","x":475,"y":446.5},{"s":"b09","x":479,"y":444},{"s":"b09","x":482,"y":443},{"s":"b09","x":486,"y":448.5},{"s":"b09","x":490,"y":446},{"s":"b09","x":494,"y":446.5},{"s":"b09","x":499,"y":441},{"s":"b09","x":504,"y":436.5},{"s":"b09","x":508,"y":441},{"s":"b09","x":511,"y":443.5},{"s":"b09","x":515,"y":440},{"s":"b09","x":518,"y":438.5},{"s":"b09","x":522,"y":443},{"s":"b09","x":526,"y":447},{"s":"b09","x":533,"y":446.5},{"s":"b09","x":540,"y":447},{"s":"b09","x":547,"y":446.5},{"s":"b09","x":554,"y":447},{"s":"b09","x":561,"y":446.5},{"s":"b09","x":568,"y":445.5},{"s":"b09","x":575,"y":445},{"s":"b09","x":582,"y":444},{"s":"b09","x":589,"y":443.5},{"s":"b09","x":596,"y":444},{"s":"b09","x":603,"y":444.5},{"s":"b09","x":610,"y":445.5},{"s":"b09","x":617,"y":446},{"s":"b09","x":624,"y":446.5},{"s":"b09","x":631,"y":446},{"s":"b09","x":638,"y":446.5},{"s":"b09","x":645,"y":445.5},{"s":"b09","x":651,"y":444.5},{"s":"b09","x":655,"y":443},{"s":"b09","x":660,"y":441.5},{"s":"b09","x":664,"y":446.5},{"s":"b09","x":669,"y":444},{"s":"b09","x":674,"y":442},{"s":"b09","x":678,"y":439.5},{"s":"b09","x":682,"y":438},{"s":"b09","x":687,"y":440},{"s":"b09","x":693,"y":441},{"s":"b09","x":700,"y":441.5},{"s":"b09","x":705,"y":444},{"s":"b09","x":711,"y":446.5},{"s":"b09","x":718,"y":446},{"s":"b09","x":725,"y":446.5},{"s":"b09","x":731,"y":445.5},{"s":"b09","x":737,"y":445.5},

{"s":"b08","x":212,"y":492},{"s":"b08","x":219,"y":491},{"s":"b08","x":226,"y":492},{"s":"b08","x":233,"y":490.5},{"s":"b08","x":239,"y":490},{"s":"b08","x":243,"y":482},{"s":"b08","x":246,"y":475},{"s":"b08","x":250,"y":482},{"s":"b08","x":254,"y":487},{"s":"b08","x":261,"y":489},{"s":"b08","x":268,"y":490.5},{"s":"b08","x":275,"y":490},{"s":"b08","x":282,"y":490.5},{"s":"b08","x":289,"y":489.5},{"s":"b08","x":296,"y":488.5},{"s":"b08","x":298,"y":482},{"s":"b08","x":300,"y":476.5},{"s":"b08","x":302,"y":487},{"s":"b08","x":305,"y":484},{"s":"b08","x":307,"y":480},{"s":"b08","x":310,"y":489},{"s":"b08","x":314,"y":490},{"s":"b08","x":318,"y":484},{"s":"b08","x":321,"y":485},{"s":"b08","x":325,"y":491},{"s":"b08","x":329,"y":499},{"s":"b08","x":332,"y":503.5},{"s":"b08","x":335,"y":495},{"s":"b08","x":339,"y":488},{"s":"b08","x":343,"y":485},{"s":"b08","x":347,"y":482.5},{"s":"b08","x":350,"y":481.5},{"s":"b08","x":354,"y":487},{"s":"b08","x":358,"y":490},{"s":"b08","x":365,"y":491},{"s":"b08","x":372,"y":491.5},{"s":"b08","x":379,"y":492},{"s":"b08","x":386,"y":491},{"s":"b08","x":393,"y":491.5},{"s":"b08","x":400,"y":491},{"s":"b08","x":407,"y":490.5},{"s":"b08","x":414,"y":489.5},{"s":"b08","x":421,"y":488},{"s":"b08","x":428,"y":487},{"s":"b08","x":435,"y":487},{"s":"b08","x":442,"y":488},{"s":"b08","x":449,"y":489.5},{"s":"b08","x":456,"y":490},{"s":"b08","x":463,"y":490.5},{"s":"b08","x":470,"y":489.5},{"s":"b08","x":475,"y":488},{"s":"b08","x":477,"y":478},{"s":"b08","x":479,"y":470},{"s":"b08","x":481,"y":482},{"s":"b08","x":482,"y":490},{"s":"b08","x":485,"y":484},{"s":"b08","x":489,"y":480},{"s":"b08","x":492,"y":486},{"s":"b08","x":496,"y":490},{"s":"b08","x":500,"y":494},{"s":"b08","x":504,"y":500},{"s":"b08","x":507,"y":508},{"s":"b08","x":509,"y":513.5},{"s":"b08","x":511,"y":503},{"s":"b08","x":514,"y":490},{"s":"b08","x":518,"y":483},{"s":"b08","x":521,"y":480},{"s":"b08","x":524,"y":478},{"s":"b08","x":527,"y":476.5},{"s":"b08","x":530,"y":482},{"s":"b08","x":533,"y":487},{"s":"b08","x":538,"y":489.5},{"s":"b08","x":544,"y":490},{"s":"b08","x":551,"y":490.5},{"s":"b08","x":558,"y":490},{"s":"b08","x":565,"y":491},{"s":"b08","x":572,"y":490},{"s":"b08","x":579,"y":490.5},{"s":"b08","x":586,"y":489.5},{"s":"b08","x":593,"y":489},{"s":"b08","x":600,"y":488.5},{"s":"b08","x":607,"y":488.5},{"s":"b08","x":614,"y":488},{"s":"b08","x":621,"y":489},{"s":"b08","x":628,"y":488.5},{"s":"b08","x":635,"y":489},{"s":"b08","x":642,"y":488},{"s":"b08","x":649,"y":488.5},{"s":"b08","x":653,"y":486},{"s":"b08","x":655,"y":479},{"s":"b08","x":657,"y":475},{"s":"b08","x":659,"y":483},{"s":"b08","x":661,"y":487},{"s":"b08","x":664,"y":484},{"s":"b08","x":668,"y":481.5},{"s":"b08","x":672,"y":487},{"s":"b08","x":675,"y":490},{"s":"b08","x":679,"y":494},{"s":"b08","x":683,"y":499},{"s":"b08","x":686,"y":502},{"s":"b08","x":689,"y":495},{"s":"b08","x":693,"y":487},{"s":"b08","x":697,"y":483},{"s":"b08","x":700,"y":481.5},{"s":"b08","x":704,"y":478},{"s":"b08","x":707,"y":476.5},{"s":"b08","x":710,"y":481},{"s":"b08","x":714,"y":487},{"s":"b08","x":720,"y":489.5},{"s":"b08","x":727,"y":490.5},{"s":"b08","x":733,"y":491},{"s":"b08","x":737,"y":492},

{"s":"b07","x":212,"y":528.5},{"s":"b07","x":219,"y":527.5},{"s":"b07","x":226,"y":527},{"s":"b07","x":233,"y":526.5},{"s":"b07","x":240,"y":527},{"s":"b07","x":244,"y":529},{"s":"b07","x":247,"y":533.5},{"s":"b07","x":254,"y":533},{"s":"b07","x":261,"y":533.5},{"s":"b07","x":268,"y":533},{"s":"b07","x":275,"y":532.5},{"s":"b07","x":282,"y":532},{"s":"b07","x":289,"y":532.5},{"s":"b07","x":296,"y":531.5},{"s":"b07","x":300,"y":529},{"s":"b07","x":303,"y":526.5},{"s":"b07","x":306,"y":532},{"s":"b07","x":310,"y":529.5},{"s":"b07","x":314,"y":530.5},{"s":"b07","x":318,"y":531},{"s":"b07","x":321,"y":533},{"s":"b07","x":324,"y":540},{"s":"b07","x":327,"y":551.5},{"s":"b07","x":330,"y":545},{"s":"b07","x":333,"y":537},{"s":"b07","x":336,"y":530},{"s":"b07","x":339,"y":524},{"s":"b07","x":343,"y":518.5},{"s":"b07","x":348,"y":519},{"s":"b07","x":353,"y":519.5},{"s":"b07","x":358,"y":520},{"s":"b07","x":364,"y":522},{"s":"b07","x":369,"y":527},{"s":"b07","x":374,"y":533},{"s":"b07","x":379,"y":538.5},{"s":"b07","x":386,"y":537},{"s":"b07","x":393,"y":535.5},{"s":"b07","x":400,"y":534},{"s":"b07","x":407,"y":533},{"s":"b07","x":414,"y":532},{"s":"b07","x":421,"y":531.5},{"s":"b07","x":428,"y":531},{"s":"b07","x":435,"y":530.5},{"s":"b07","x":442,"y":530},{"s":"b07","x":449,"y":530},{"s":"b07","x":456,"y":529.5},{"s":"b07","x":463,"y":530},{"s":"b07","x":470,"y":530.5},{"s":"b07","x":477,"y":530},{"s":"b07","x":482,"y":531.5},{"s":"b07","x":486,"y":533},{"s":"b07","x":490,"y":531.5},{"s":"b07","x":495,"y":533},{"s":"b07","x":499,"y":540},{"s":"b07","x":502,"y":550},{"s":"b07","x":504,"y":553.5},{"s":"b07","x":507,"y":551},{"s":"b07","x":511,"y":546.5},{"s":"b07","x":515,"y":535},{"s":"b07","x":518,"y":527},{"s":"b07","x":521,"y":519},{"s":"b07","x":523,"y":515},{"s":"b07","x":527,"y":515.5},{"s":"b07","x":532,"y":518},{"s":"b07","x":537,"y":520.5},{"s":"b07","x":543,"y":524},{"s":"b07","x":550,"y":530},{"s":"b07","x":557,"y":536.5},{"s":"b07","x":564,"y":535.5},{"s":"b07","x":571,"y":534},{"s":"b07","x":578,"y":533},{"s":"b07","x":585,"y":532.5},{"s":"b07","x":592,"y":531.5},{"s":"b07","x":599,"y":531},{"s":"b07","x":606,"y":530.5},{"s":"b07","x":613,"y":530},{"s":"b07","x":620,"y":530},{"s":"b07","x":627,"y":529.5},{"s":"b07","x":634,"y":529},{"s":"b07","x":641,"y":528},{"s":"b07","x":648,"y":527.5},{"s":"b07","x":655,"y":526.5},{"s":"b07","x":661,"y":525},{"s":"b07","x":665,"y":525},{"s":"b07","x":669,"y":528},{"s":"b07","x":673,"y":533},{"s":"b07","x":677,"y":541},{"s":"b07","x":681,"y":546},{"s":"b07","x":684,"y":548.5},{"s":"b07","x":688,"y":539},{"s":"b07","x":692,"y":530},{"s":"b07","x":696,"y":523.5},{"s":"b07","x":700,"y":519},{"s":"b07","x":704,"y":516.5},{"s":"b07","x":708,"y":518},{"s":"b07","x":714,"y":523},{"s":"b07","x":721,"y":527.5},{"s":"b07","x":728,"y":531.5},{"s":"b07","x":733,"y":533.5},{"s":"b07","x":737,"y":535},

{"s":"b06","x":212,"y":571},{"s":"b06","x":219,"y":569},{"s":"b06","x":226,"y":566},{"s":"b06","x":232,"y":564},{"s":"b06","x":237,"y":560},{"s":"b06","x":241,"y":558},{"s":"b06","x":243,"y":558.5},{"s":"b06","x":245,"y":575},{"s":"b06","x":247,"y":583},{"s":"b06","x":250,"y":572},{"s":"b06","x":254,"y":566.5},{"s":"b06","x":261,"y":563},{"s":"b06","x":268,"y":562},{"s":"b06","x":275,"y":561.5},{"s":"b06","x":282,"y":561},{"s":"b06","x":289,"y":561.5},{"s":"b06","x":294,"y":562},{"s":"b06","x":297,"y":570},{"s":"b06","x":300,"y":578},{"s":"b06","x":302,"y":568},{"s":"b06","x":304,"y":565},{"s":"b06","x":307,"y":576.5},{"s":"b06","x":310,"y":570},{"s":"b06","x":314,"y":570},{"s":"b06","x":317,"y":575},{"s":"b06","x":321,"y":580},{"s":"b06","x":325,"y":588},{"s":"b06","x":328,"y":578},{"s":"b06","x":332,"y":563},{"s":"b06","x":336,"y":560},{"s":"b06","x":340,"y":552},{"s":"b06","x":343,"y":547},{"s":"b06","x":347,"y":553},{"s":"b06","x":350,"y":555},{"s":"b06","x":354,"y":552},{"s":"b06","x":357,"y":551.5},{"s":"b06","x":361,"y":557},{"s":"b06","x":364,"y":563},{"s":"b06","x":371,"y":569},{"s":"b06","x":378,"y":573.5},{"s":"b06","x":385,"y":576.5},{"s":"b06","x":392,"y":574},{"s":"b06","x":399,"y":572},{"s":"b06","x":405,"y":570},{"s":"b06","x":410,"y":565},{"s":"b06","x":414,"y":560},{"s":"b06","x":419,"y":565},{"s":"b06","x":425,"y":568},{"s":"b06","x":432,"y":566},{"s":"b06","x":439,"y":563.5},{"s":"b06","x":446,"y":562.5},{"s":"b06","x":453,"y":561.5},{"s":"b06","x":460,"y":561.5},{"s":"b06","x":467,"y":562},{"s":"b06","x":474,"y":563},{"s":"b06","x":478,"y":565},{"s":"b06","x":480,"y":574},{"s":"b06","x":482,"y":581.5},{"s":"b06","x":484,"y":572},{"s":"b06","x":486,"y":568},{"s":"b06","x":489,"y":570},{"s":"b06","x":493,"y":571.5},{"s":"b06","x":496,"y":578},{"s":"b06","x":500,"y":590},{"s":"b06","x":503,"y":587},{"s":"b06","x":507,"y":583},{"s":"b06","x":509,"y":570},{"s":"b06","x":511,"y":563},{"s":"b06","x":514,"y":569},{"s":"b06","x":517,"y":555},{"s":"b06","x":521,"y":536.5},{"s":"b06","x":524,"y":550},{"s":"b06","x":527,"y":560},{"s":"b06","x":531,"y":562},{"s":"b06","x":533,"y":556},{"s":"b06","x":536,"y":548.5},{"s":"b06","x":540,"y":556},{"s":"b06","x":545,"y":566.5},{"s":"b06","x":551,"y":570},{"s":"b06","x":557,"y":571.5},{"s":"b06","x":564,"y":571},{"s":"b06","x":571,"y":570},{"s":"b06","x":578,"y":570.5},{"s":"b06","x":585,"y":569.5},{"s":"b06","x":592,"y":570},{"s":"b06","x":599,"y":569},{"s":"b06","x":606,"y":568.5},{"s":"b06","x":613,"y":567.5},{"s":"b06","x":620,"y":566.5},{"s":"b06","x":627,"y":565},{"s":"b06","x":634,"y":564},{"s":"b06","x":641,"y":562},{"s":"b06","x":646,"y":560},{"s":"b06","x":650,"y":563},{"s":"b06","x":654,"y":570},{"s":"b06","x":657,"y":576.5},{"s":"b06","x":660,"y":570},{"s":"b06","x":664,"y":566.5},{"s":"b06","x":668,"y":570},{"s":"b06","x":672,"y":577},{"s":"b06","x":675,"y":581.5},{"s":"b06","x":679,"y":576},{"s":"b06","x":683,"y":568},{"s":"b06","x":686,"y":563},{"s":"b06","x":689,"y":553},{"s":"b06","x":693,"y":547},{"s":"b06","x":698,"y":541.5},{"s":"b06","x":702,"y":550},{"s":"b06","x":705,"y":559},{"s":"b06","x":707,"y":561.5},{"s":"b06","x":711,"y":556},{"s":"b06","x":714,"y":553},{"s":"b06","x":718,"y":555},{"s":"b06","x":722,"y":557},{"s":"b06","x":725,"y":565},{"s":"b06","x":729,"y":572},{"s":"b06","x":733,"y":572.5},{"s":"b06","x":737,"y":573},

{"s":"b05","x":212,"y":612},{"s":"b05","x":216,"y":613},{"s":"b05","x":220,"y":609},{"s":"b05","x":226,"y":610.5},{"s":"b05","x":232,"y":608},{"s":"b05","x":238,"y":605},{"s":"b05","x":243,"y":601.5},{"s":"b05","x":246,"y":605},{"s":"b05","x":250,"y":604},{"s":"b05","x":257,"y":603.5},{"s":"b05","x":264,"y":604},{"s":"b05","x":271,"y":603},{"s":"b05","x":278,"y":604.5},{"s":"b05","x":285,"y":604},{"s":"b05","x":292,"y":605},{"s":"b05","x":297,"y":606.5},{"s":"b05","x":300,"y":608},{"s":"b05","x":302,"y":616.5},{"s":"b05","x":304,"y":608},{"s":"b05","x":307,"y":603.5},{"s":"b05","x":310,"y":607},{"s":"b05","x":314,"y":610},{"s":"b05","x":318,"y":606},{"s":"b05","x":321,"y":603},{"s":"b05","x":325,"y":608},{"s":"b05","x":329,"y":611.5},{"s":"b05","x":332,"y":606},{"s":"b05","x":336,"y":601.5},{"s":"b05","x":340,"y":605},{"s":"b05","x":343,"y":606.5},{"s":"b05","x":348,"y":603.5},{"s":"b05","x":354,"y":602.5},{"s":"b05","x":361,"y":601.5},{"s":"b05","x":368,"y":603.5},{"s":"b05","x":375,"y":605.5},{"s":"b05","x":382,"y":607},{"s":"b05","x":389,"y":607.5},{"s":"b05","x":396,"y":609},{"s":"b05","x":401,"y":610.5},{"s":"b05","x":405,"y":615},{"s":"b05","x":409,"y":609},{"s":"b05","x":414,"y":605},{"s":"b05","x":421,"y":605.5},{"s":"b05","x":428,"y":604.5},{"s":"b05","x":435,"y":605},{"s":"b05","x":442,"y":604.5},{"s":"b05","x":449,"y":605.5},{"s":"b05","x":456,"y":605},{"s":"b05","x":463,"y":606},{"s":"b05","x":470,"y":606.5},{"s":"b05","x":476,"y":607},{"s":"b05","x":479,"y":610},{"s":"b05","x":482,"y":618},{"s":"b05","x":484,"y":609},{"s":"b05","x":487,"y":607},{"s":"b05","x":491,"y":610},{"s":"b05","x":495,"y":611.5},{"s":"b05","x":499,"y":606},{"s":"b05","x":503,"y":602},{"s":"b05","x":508,"y":602.5},{"s":"b05","x":514,"y":603.5},{"s":"b05","x":521,"y":602.5},{"s":"b05","x":528,"y":602},{"s":"b05","x":535,"y":601.5},{"s":"b05","x":542,"y":603},{"s":"b05","x":549,"y":604.5},{"s":"b05","x":556,"y":606.5},{"s":"b05","x":563,"y":608},{"s":"b05","x":570,"y":610.5},{"s":"b05","x":576,"y":613},{"s":"b05","x":580,"y":613},{"s":"b05","x":585,"y":609},{"s":"b05","x":592,"y":605.5},{"s":"b05","x":599,"y":605},{"s":"b05","x":606,"y":604},{"s":"b05","x":613,"y":604.5},{"s":"b05","x":620,"y":603.5},{"s":"b05","x":627,"y":603.5},{"s":"b05","x":634,"y":604.5},{"s":"b05","x":641,"y":605},{"s":"b05","x":648,"y":606},{"s":"b05","x":653,"y":607},{"s":"b05","x":655,"y":612},{"s":"b05","x":657,"y":615},{"s":"b05","x":660,"y":610},{"s":"b05","x":664,"y":610.5},{"s":"b05","x":668,"y":612},{"s":"b05","x":671,"y":613},{"s":"b05","x":675,"y":608},{"s":"b05","x":679,"y":603.5},{"s":"b05","x":686,"y":601.5},{"s":"b05","x":693,"y":600},{"s":"b05","x":700,"y":600.5},{"s":"b05","x":707,"y":600},{"s":"b05","x":713,"y":601.5},{"s":"b05","x":718,"y":603},{"s":"b05","x":725,"y":604.5},{"s":"b05","x":731,"y":605.5},{"s":"b05","x":737,"y":606},

{"s":"b04","x":212,"y":652},{"s":"b04","x":218,"y":653},{"s":"b04","x":224,"y":654},{"s":"b04","x":230,"y":655.5},{"s":"b04","x":236,"y":654.5},{"s":"b04","x":240,"y":652},{"s":"b04","x":243,"y":645},{"s":"b04","x":245,"y":641.5},{"s":"b04","x":249,"y":645},{"s":"b04","x":254,"y":647},{"s":"b04","x":261,"y":648.5},{"s":"b04","x":268,"y":650},{"s":"b04","x":275,"y":649.5},{"s":"b04","x":282,"y":650.5},{"s":"b04","x":289,"y":650},{"s":"b04","x":296,"y":649.5},{"s":"b04","x":300,"y":648},{"s":"b04","x":303,"y":645},{"s":"b04","x":306,"y":648},{"s":"b04","x":310,"y":644.5},{"s":"b04","x":314,"y":643.5},{"s":"b04","x":318,"y":642},{"s":"b04","x":323,"y":640},{"s":"b04","x":326,"y":646},{"s":"b04","x":329,"y":652},{"s":"b04","x":334,"y":654.5},{"s":"b04","x":339,"y":656},{"s":"b04","x":343,"y":656.5},{"s":"b04","x":348,"y":655.5},{"s":"b04","x":353,"y":654},{"s":"b04","x":358,"y":653},{"s":"b04","x":364,"y":650},{"s":"b04","x":371,"y":647.5},{"s":"b04","x":378,"y":645},{"s":"b04","x":385,"y":646},{"s":"b04","x":392,"y":647},{"s":"b04","x":399,"y":649},{"s":"b04","x":406,"y":652.5},{"s":"b04","x":410,"y":653},{"s":"b04","x":414,"y":651.5},{"s":"b04","x":419,"y":647},{"s":"b04","x":423,"y":643.5},{"s":"b04","x":428,"y":646.5},{"s":"b04","x":434,"y":650},{"s":"b04","x":441,"y":652},{"s":"b04","x":448,"y":653},{"s":"b04","x":455,"y":654},{"s":"b04","x":462,"y":653.5},{"s":"b04","x":469,"y":652.5},{"s":"b04","x":475,"y":651.5},{"s":"b04","x":479,"y":648},{"s":"b04","x":483,"y":645},{"s":"b04","x":486,"y":643.5},{"s":"b04","x":490,"y":644.5},{"s":"b04","x":495,"y":642},{"s":"b04","x":500,"y":641.5},{"s":"b04","x":504,"y":648},{"s":"b04","x":508,"y":652},{"s":"b04","x":512,"y":656},{"s":"b04","x":516,"y":661},{"s":"b04","x":518,"y":663.5},{"s":"b04","x":522,"y":658},{"s":"b04","x":526,"y":655},{"s":"b04","x":530,"y":652.5},{"s":"b04","x":536,"y":649},{"s":"b04","x":543,"y":648},{"s":"b04","x":550,"y":647},{"s":"b04","x":557,"y":646.5},{"s":"b04","x":564,"y":648},{"s":"b04","x":571,"y":651},{"s":"b04","x":578,"y":655},{"s":"b04","x":585,"y":652},{"s":"b04","x":592,"y":648},{"s":"b04","x":600,"y":645},{"s":"b04","x":607,"y":646.5},{"s":"b04","x":614,"y":648},{"s":"b04","x":621,"y":649},{"s":"b04","x":628,"y":650},{"s":"b04","x":635,"y":650.5},{"s":"b04","x":642,"y":651},{"s":"b04","x":649,"y":651.5},{"s":"b04","x":654,"y":651},{"s":"b04","x":657,"y":646.5},{"s":"b04","x":661,"y":648},{"s":"b04","x":665,"y":645},{"s":"b04","x":670,"y":643.5},{"s":"b04","x":675,"y":644},{"s":"b04","x":680,"y":645.5},{"s":"b04","x":686,"y":648.5},{"s":"b04","x":690,"y":653},{"s":"b04","x":693,"y":658.5},{"s":"b04","x":697,"y":655},{"s":"b04","x":700,"y":651.5},{"s":"b04","x":706,"y":648.5},{"s":"b04","x":712,"y":646},{"s":"b04","x":718,"y":643.5},{"s":"b04","x":724,"y":643},{"s":"b04","x":731,"y":643.5},{"s":"b04","x":737,"y":644},

{"s":"c17","x":762,"y":117.5},{"s":"c17","x":772,"y":116},{"s":"c17","x":782,"y":116.5},{"s":"c17","x":792,"y":115.5},{"s":"c17","x":802,"y":116},{"s":"c17","x":812,"y":114.5},{"s":"c17","x":822,"y":115.5},{"s":"c17","x":832,"y":114.5},{"s":"c17","x":842,"y":115},{"s":"c17","x":852,"y":114},{"s":"c17","x":862,"y":115},{"s":"c17","x":872,"y":114.5},{"s":"c17","x":882,"y":115.5},{"s":"c17","x":892,"y":115},{"s":"c17","x":902,"y":116},{"s":"c17","x":912,"y":118.5},{"s":"c17","x":917,"y":116},{"s":"c17","x":922,"y":115},{"s":"c17","x":932,"y":114},{"s":"c17","x":942,"y":115},{"s":"c17","x":952,"y":114.5},{"s":"c17","x":962,"y":114},{"s":"c17","x":972,"y":115},{"s":"c17","x":982,"y":113.5},{"s":"c17","x":992,"y":114.5},{"s":"c17","x":1002,"y":114},{"s":"c17","x":1012,"y":115},{"s":"c17","x":1022,"y":114},{"s":"c17","x":1032,"y":113.5},{"s":"c17","x":1042,"y":114.5},{"s":"c17","x":1052,"y":115},{"s":"c17","x":1062,"y":114},{"s":"c17","x":1072,"y":115},{"s":"c17","x":1082,"y":114.5},{"s":"c17","x":1092,"y":113.5},{"s":"c17","x":1102,"y":114},{"s":"c17","x":1112,"y":114.5},{"s":"c17","x":1122,"y":115.5},{"s":"c17","x":1132,"y":114.5},{"s":"c17","x":1142,"y":115},{"s":"c17","x":1152,"y":114},{"s":"c17","x":1162,"y":114.5},{"s":"c17","x":1172,"y":115},{"s":"c17","x":1182,"y":114.5},{"s":"c17","x":1192,"y":115.5},{"s":"c17","x":1202,"y":115},{"s":"c17","x":1212,"y":114.5},{"s":"c17","x":1222,"y":115},{"s":"c17","x":1232,"y":114},{"s":"c17","x":1242,"y":114.5},{"s":"c17","x":1252,"y":114},{"s":"c17","x":1262,"y":114.5},{"s":"c17","x":1272,"y":113.5},{"s":"c17","x":1280,"y":112},{"s":"c17","x":1285,"y":112.5},{"s":"c17","x":1290,"y":113.5},

{"s":"c16","x":762,"y":162},{"s":"c16","x":765,"y":158},{"s":"c16","x":769,"y":155.5},{"s":"c16","x":776,"y":154.5},{"s":"c16","x":786,"y":155},{"s":"c16","x":796,"y":153.5},{"s":"c16","x":806,"y":154.5},{"s":"c16","x":816,"y":153.5},{"s":"c16","x":826,"y":154},{"s":"c16","x":836,"y":152.5},{"s":"c16","x":846,"y":154},{"s":"c16","x":856,"y":153},{"s":"c16","x":866,"y":152.5},{"s":"c16","x":876,"y":153.5},{"s":"c16","x":886,"y":152},{"s":"c16","x":896,"y":153},{"s":"c16","x":906,"y":152},{"s":"c16","x":916,"y":153},{"s":"c16","x":926,"y":151.5},{"s":"c16","x":936,"y":152.5},{"s":"c16","x":946,"y":151},{"s":"c16","x":956,"y":152},{"s":"c16","x":966,"y":151.5},{"s":"c16","x":976,"y":152.5},{"s":"c16","x":986,"y":151},{"s":"c16","x":996,"y":152},{"s":"c16","x":1006,"y":151.5},{"s":"c16","x":1016,"y":150.5},{"s":"c16","x":1026,"y":151.5},{"s":"c16","x":1036,"y":150},{"s":"c16","x":1046,"y":151.5},{"s":"c16","x":1056,"y":150.5},{"s":"c16","x":1066,"y":149.5},{"s":"c16","x":1076,"y":150.5},{"s":"c16","x":1086,"y":149},{"s":"c16","x":1096,"y":150},{"s":"c16","x":1106,"y":151},{"s":"c16","x":1116,"y":150},{"s":"c16","x":1126,"y":151.5},{"s":"c16","x":1136,"y":150.5},{"s":"c16","x":1146,"y":151.5},{"s":"c16","x":1156,"y":150},{"s":"c16","x":1166,"y":151},{"s":"c16","x":1176,"y":150.5},{"s":"c16","x":1186,"y":149.5},{"s":"c16","x":1196,"y":150.5},{"s":"c16","x":1206,"y":149.5},{"s":"c16","x":1216,"y":150},{"s":"c16","x":1226,"y":149},{"s":"c16","x":1236,"y":150},{"s":"c16","x":1246,"y":149.5},{"s":"c16","x":1256,"y":148.5},{"s":"c16","x":1266,"y":148},{"s":"c16","x":1274,"y":146.5},{"s":"c16","x":1280,"y":145.5},{"s":"c16","x":1286,"y":147.5},{"s":"c16","x":1290,"y":149},

{"s":"c15","x":762,"y":202},{"s":"c15","x":765,"y":198},{"s":"c15","x":769,"y":195},{"s":"c15","x":776,"y":194.5},{"s":"c15","x":786,"y":195.5},{"s":"c15","x":796,"y":193.5},{"s":"c15","x":806,"y":194},{"s":"c15","x":816,"y":193},{"s":"c15","x":826,"y":194.5},{"s":"c15","x":836,"y":192.5},{"s":"c15","x":846,"y":193.5},{"s":"c15","x":856,"y":194.5},{"s":"c15","x":866,"y":193},{"s":"c15","x":876,"y":192.5},{"s":"c15","x":886,"y":193.5},{"s":"c15","x":896,"y":192},{"s":"c15","x":906,"y":193},{"s":"c15","x":916,"y":191.5},{"s":"c15","x":926,"y":192.5},{"s":"c15","x":936,"y":193.5},{"s":"c15","x":946,"y":192},{"s":"c15","x":956,"y":191.5},{"s":"c15","x":966,"y":192.5},{"s":"c15","x":976,"y":191},{"s":"c15","x":986,"y":192},{"s":"c15","x":996,"y":191.5},{"s":"c15","x":1006,"y":193},{"s":"c15","x":1016,"y":191.5},{"s":"c15","x":1026,"y":192},{"s":"c15","x":1036,"y":190.5},{"s":"c15","x":1046,"y":191.5},{"s":"c15","x":1056,"y":192},{"s":"c15","x":1066,"y":190.5},{"s":"c15","x":1076,"y":191.5},{"s":"c15","x":1086,"y":190},{"s":"c15","x":1096,"y":191},{"s":"c15","x":1106,"y":190.5},{"s":"c15","x":1116,"y":191.5},{"s":"c15","x":1126,"y":190},{"s":"c15","x":1136,"y":191},{"s":"c15","x":1146,"y":192},{"s":"c15","x":1156,"y":191},{"s":"c15","x":1166,"y":190.5},{"s":"c15","x":1176,"y":191.5},{"s":"c15","x":1186,"y":192},{"s":"c15","x":1196,"y":191},{"s":"c15","x":1206,"y":190.5},{"s":"c15","x":1216,"y":191.5},{"s":"c15","x":1226,"y":192},{"s":"c15","x":1236,"y":191},{"s":"c15","x":1246,"y":190},{"s":"c15","x":1256,"y":189},{"s":"c15","x":1266,"y":188},{"s":"c15","x":1274,"y":186.5},{"s":"c15","x":1280,"y":185},{"s":"c15","x":1286,"y":187},{"s":"c15","x":1290,"y":189},

{"s":"c14","x":762,"y":246.5},{"s":"c14","x":765,"y":241},{"s":"c14","x":769,"y":238},{"s":"c14","x":776,"y":237},{"s":"c14","x":786,"y":236},{"s":"c14","x":796,"y":236.5},{"s":"c14","x":806,"y":235},{"s":"c14","x":816,"y":235.5},{"s":"c14","x":826,"y":234.5},{"s":"c14","x":836,"y":235.5},{"s":"c14","x":846,"y":234.5},{"s":"c14","x":856,"y":235},{"s":"c14","x":866,"y":236},{"s":"c14","x":876,"y":234.5},{"s":"c14","x":886,"y":235},{"s":"c14","x":896,"y":234},{"s":"c14","x":906,"y":235},{"s":"c14","x":916,"y":234.5},{"s":"c14","x":926,"y":235.5},{"s":"c14","x":936,"y":234.5},{"s":"c14","x":946,"y":235},{"s":"c14","x":956,"y":235.5},{"s":"c14","x":966,"y":234},{"s":"c14","x":976,"y":235},{"s":"c14","x":986,"y":234},{"s":"c14","x":996,"y":234.5},{"s":"c14","x":1006,"y":233.5},{"s":"c14","x":1016,"y":234.5},{"s":"c14","x":1026,"y":233.5},{"s":"c14","x":1036,"y":232},{"s":"c14","x":1042,"y":230.5},{"s":"c14","x":1048,"y":234},{"s":"c14","x":1056,"y":233.5},{"s":"c14","x":1066,"y":234},{"s":"c14","x":1076,"y":233},{"s":"c14","x":1086,"y":234},{"s":"c14","x":1096,"y":233.5},{"s":"c14","x":1106,"y":232.5},{"s":"c14","x":1116,"y":233.5},{"s":"c14","x":1126,"y":233},{"s":"c14","x":1136,"y":234},{"s":"c14","x":1146,"y":233},{"s":"c14","x":1156,"y":233.5},{"s":"c14","x":1166,"y":232.5},{"s":"c14","x":1176,"y":233.5},{"s":"c14","x":1186,"y":234},{"s":"c14","x":1196,"y":233},{"s":"c14","x":1206,"y":234},{"s":"c14","x":1216,"y":233},{"s":"c14","x":1226,"y":233.5},{"s":"c14","x":1236,"y":232.5},{"s":"c14","x":1246,"y":233.5},{"s":"c14","x":1256,"y":232.5},{"s":"c14","x":1266,"y":231.5},{"s":"c14","x":1276,"y":231},{"s":"c14","x":1284,"y":230},{"s":"c14","x":1289,"y":229.5},{"s":"c14","x":1290.5,"y":234},

{"s":"c13","x":762,"y":286},{"s":"c13","x":765,"y":281},{"s":"c13","x":770,"y":279.5},{"s":"c13","x":776,"y":279},{"s":"c13","x":786,"y":278},{"s":"c13","x":796,"y":278.5},{"s":"c13","x":806,"y":277.5},{"s":"c13","x":816,"y":278},{"s":"c13","x":826,"y":277},{"s":"c13","x":836,"y":278},{"s":"c13","x":846,"y":277.5},{"s":"c13","x":856,"y":276.5},{"s":"c13","x":866,"y":277.5},{"s":"c13","x":876,"y":276.5},{"s":"c13","x":886,"y":277},{"s":"c13","x":896,"y":276},{"s":"c13","x":906,"y":277},{"s":"c13","x":916,"y":276.5},{"s":"c13","x":926,"y":276},{"s":"c13","x":936,"y":277},{"s":"c13","x":946,"y":276},{"s":"c13","x":956,"y":275.5},{"s":"c13","x":966,"y":276.5},{"s":"c13","x":976,"y":275},{"s":"c13","x":986,"y":276},{"s":"c13","x":996,"y":274.5},{"s":"c13","x":1006,"y":273.5},{"s":"c13","x":1016,"y":274.5},{"s":"c13","x":1026,"y":273.5},{"s":"c13","x":1036,"y":275},{"s":"c13","x":1046,"y":274},{"s":"c13","x":1056,"y":275.5},{"s":"c13","x":1066,"y":274.5},{"s":"c13","x":1076,"y":275.5},{"s":"c13","x":1086,"y":274.5},{"s":"c13","x":1096,"y":275},{"s":"c13","x":1106,"y":276},{"s":"c13","x":1116,"y":274.5},{"s":"c13","x":1126,"y":275.5},{"s":"c13","x":1136,"y":274.5},{"s":"c13","x":1146,"y":275.5},{"s":"c13","x":1156,"y":276},{"s":"c13","x":1166,"y":275},{"s":"c13","x":1176,"y":276},{"s":"c13","x":1186,"y":275},{"s":"c13","x":1196,"y":276.5},{"s":"c13","x":1206,"y":275.5},{"s":"c13","x":1216,"y":276.5},{"s":"c13","x":1226,"y":276},{"s":"c13","x":1236,"y":277},{"s":"c13","x":1246,"y":276},{"s":"c13","x":1256,"y":275.5},{"s":"c13","x":1266,"y":275},{"s":"c13","x":1276,"y":274},{"s":"c13","x":1284,"y":272.5},{"s":"c13","x":1288,"y":271},{"s":"c13","x":1290,"y":273},

{"s":"c12","x":762,"y":323},{"s":"c12","x":770,"y":321},{"s":"c12","x":778,"y":318.5},{"s":"c12","x":786,"y":320},{"s":"c12","x":794,"y":318},{"s":"c12","x":802,"y":317},{"s":"c12","x":810,"y":319},{"s":"c12","x":818,"y":320.5},{"s":"c12","x":826,"y":318},{"s":"c12","x":834,"y":319.5},{"s":"c12","x":842,"y":317.5},{"s":"c12","x":850,"y":318.5},{"s":"c12","x":858,"y":320},{"s":"c12","x":866,"y":315},{"s":"c12","x":870,"y":318},{"s":"c12","x":878,"y":319},{"s":"c12","x":886,"y":317.5},{"s":"c12","x":894,"y":319},{"s":"c12","x":902,"y":320.5},{"s":"c12","x":910,"y":318.5},{"s":"c12","x":918,"y":319.5},{"s":"c12","x":926,"y":320.5},{"s":"c12","x":934,"y":319},{"s":"c12","x":942,"y":318},{"s":"c12","x":950,"y":319.5},{"s":"c12","x":958,"y":317.5},{"s":"c12","x":966,"y":318.5},{"s":"c12","x":974,"y":319},{"s":"c12","x":982,"y":320},{"s":"c12","x":990,"y":318.5},{"s":"c12","x":998,"y":319.5},{"s":"c12","x":1006,"y":318},{"s":"c12","x":1014,"y":317},{"s":"c12","x":1022,"y":318.5},{"s":"c12","x":1030,"y":320},{"s":"c12","x":1038,"y":318},{"s":"c12","x":1046,"y":317.5},{"s":"c12","x":1054,"y":319},{"s":"c12","x":1062,"y":318},{"s":"c12","x":1070,"y":320.5},{"s":"c12","x":1078,"y":319.5},{"s":"c12","x":1086,"y":317.5},{"s":"c12","x":1094,"y":318.5},{"s":"c12","x":1102,"y":320},{"s":"c12","x":1110,"y":321.5},{"s":"c12","x":1118,"y":319},{"s":"c12","x":1126,"y":318},{"s":"c12","x":1134,"y":319.5},{"s":"c12","x":1142,"y":318},{"s":"c12","x":1150,"y":317.5},{"s":"c12","x":1158,"y":318.5},{"s":"c12","x":1166,"y":320},{"s":"c12","x":1174,"y":319},{"s":"c12","x":1182,"y":320.5},{"s":"c12","x":1190,"y":318.5},{"s":"c12","x":1198,"y":319.5},{"s":"c12","x":1206,"y":317.5},{"s":"c12","x":1214,"y":318},{"s":"c12","x":1222,"y":319.5},{"s":"c12","x":1230,"y":318},{"s":"c12","x":1238,"y":319},{"s":"c12","x":1246,"y":317.5},{"s":"c12","x":1254,"y":318.5},{"s":"c12","x":1262,"y":319.5},{"s":"c12","x":1270,"y":318},{"s":"c12","x":1278,"y":319},{"s":"c12","x":1286,"y":318},{"s":"c12","x":1291,"y":318.5},

{"s":"c11","x":762,"y":365},{"s":"c11","x":772,"y":364},{"s":"c11","x":782,"y":365.5},{"s":"c11","x":792,"y":364.5},{"s":"c11","x":802,"y":366},{"s":"c11","x":812,"y":365},{"s":"c11","x":822,"y":366.5},{"s":"c11","x":832,"y":365.5},{"s":"c11","x":842,"y":364.5},{"s":"c11","x":852,"y":365.5},{"s":"c11","x":862,"y":364},{"s":"c11","x":872,"y":363.5},{"s":"c11","x":882,"y":362.5},{"s":"c11","x":889,"y":361.5},{"s":"c11","x":896,"y":363.5},{"s":"c11","x":906,"y":364},{"s":"c11","x":916,"y":365.5},{"s":"c11","x":926,"y":364.5},{"s":"c11","x":936,"y":366},{"s":"c11","x":946,"y":365},{"s":"c11","x":956,"y":364.5},{"s":"c11","x":966,"y":365.5},{"s":"c11","x":976,"y":364},{"s":"c11","x":986,"y":363.5},{"s":"c11","x":996,"y":364.5},{"s":"c11","x":1006,"y":365},{"s":"c11","x":1016,"y":366},{"s":"c11","x":1026,"y":365},{"s":"c11","x":1036,"y":364},{"s":"c11","x":1046,"y":361.5},{"s":"c11","x":1054,"y":363},{"s":"c11","x":1064,"y":364},{"s":"c11","x":1074,"y":365},{"s":"c11","x":1084,"y":364},{"s":"c11","x":1094,"y":365.5},{"s":"c11","x":1104,"y":364.5},{"s":"c11","x":1114,"y":365},{"s":"c11","x":1124,"y":364},{"s":"c11","x":1134,"y":363.5},{"s":"c11","x":1144,"y":364.5},{"s":"c11","x":1154,"y":365.5},{"s":"c11","x":1164,"y":364.5},{"s":"c11","x":1174,"y":365},{"s":"c11","x":1184,"y":366},{"s":"c11","x":1194,"y":365.5},{"s":"c11","x":1204,"y":366.5},{"s":"c11","x":1214,"y":368},{"s":"c11","x":1220,"y":364.5},{"s":"c11","x":1230,"y":363.5},{"s":"c11","x":1240,"y":364.5},{"s":"c11","x":1250,"y":364},{"s":"c11","x":1260,"y":365},{"s":"c11","x":1270,"y":364.5},{"s":"c11","x":1280,"y":366},{"s":"c11","x":1290,"y":367},

{"s":"c10","x":762,"y":401.5},{"s":"c10","x":772,"y":403},{"s":"c10","x":782,"y":404.5},{"s":"c10","x":792,"y":403.5},{"s":"c10","x":802,"y":405},{"s":"c10","x":812,"y":406.5},{"s":"c10","x":822,"y":405},{"s":"c10","x":832,"y":404},{"s":"c10","x":842,"y":402.5},{"s":"c10","x":852,"y":401.5},{"s":"c10","x":862,"y":400.5},{"s":"c10","x":870,"y":400},{"s":"c10","x":878,"y":403},{"s":"c10","x":888,"y":405},{"s":"c10","x":898,"y":404},{"s":"c10","x":908,"y":405.5},{"s":"c10","x":918,"y":404.5},{"s":"c10","x":928,"y":403.5},{"s":"c10","x":938,"y":404},{"s":"c10","x":948,"y":402.5},{"s":"c10","x":958,"y":403.5},{"s":"c10","x":968,"y":403},{"s":"c10","x":978,"y":404.5},{"s":"c10","x":988,"y":403},{"s":"c10","x":998,"y":402.5},{"s":"c10","x":1008,"y":403.5},{"s":"c10","x":1018,"y":402},{"s":"c10","x":1028,"y":403},{"s":"c10","x":1038,"y":401.5},{"s":"c10","x":1046,"y":400},{"s":"c10","x":1054,"y":402},{"s":"c10","x":1064,"y":404},{"s":"c10","x":1074,"y":405},{"s":"c10","x":1084,"y":404},{"s":"c10","x":1094,"y":405.5},{"s":"c10","x":1104,"y":406},{"s":"c10","x":1114,"y":405.5},{"s":"c10","x":1124,"y":406.5},{"s":"c10","x":1134,"y":405},{"s":"c10","x":1144,"y":404},{"s":"c10","x":1154,"y":403.5},{"s":"c10","x":1164,"y":404.5},{"s":"c10","x":1174,"y":403},{"s":"c10","x":1184,"y":402.5},{"s":"c10","x":1194,"y":401.5},{"s":"c10","x":1204,"y":401},{"s":"c10","x":1210,"y":400},{"s":"c10","x":1218,"y":402.5},{"s":"c10","x":1228,"y":404},{"s":"c10","x":1238,"y":405},{"s":"c10","x":1248,"y":403.5},{"s":"c10","x":1258,"y":404},{"s":"c10","x":1268,"y":403},{"s":"c10","x":1278,"y":402.5},{"s":"c10","x":1290,"y":402},

{"s":"c09","x":762,"y":441.5},{"s":"c09","x":766,"y":445},{"s":"c09","x":772,"y":447},{"s":"c09","x":782,"y":448.5},{"s":"c09","x":792,"y":449.5},{"s":"c09","x":802,"y":449},{"s":"c09","x":812,"y":450},{"s":"c09","x":822,"y":449},{"s":"c09","x":832,"y":450},{"s":"c09","x":842,"y":448.5},{"s":"c09","x":850,"y":447},{"s":"c09","x":856,"y":443},{"s":"c09","x":860,"y":445.5},{"s":"c09","x":866,"y":446.5},{"s":"c09","x":876,"y":447.5},{"s":"c09","x":886,"y":448.5},{"s":"c09","x":896,"y":448},{"s":"c09","x":906,"y":447},{"s":"c09","x":916,"y":446.5},{"s":"c09","x":926,"y":447.5},{"s":"c09","x":936,"y":446.5},{"s":"c09","x":946,"y":447.5},{"s":"c09","x":956,"y":448},{"s":"c09","x":966,"y":449},{"s":"c09","x":976,"y":450},{"s":"c09","x":986,"y":449.5},{"s":"c09","x":996,"y":450.5},{"s":"c09","x":1006,"y":449},{"s":"c09","x":1016,"y":448},{"s":"c09","x":1026,"y":447.5},{"s":"c09","x":1033,"y":446},{"s":"c09","x":1038,"y":440},{"s":"c09","x":1042,"y":444},{"s":"c09","x":1048,"y":446},{"s":"c09","x":1058,"y":447.5},{"s":"c09","x":1068,"y":448.5},{"s":"c09","x":1078,"y":447.5},{"s":"c09","x":1088,"y":448},{"s":"c09","x":1098,"y":447},{"s":"c09","x":1108,"y":446.5},{"s":"c09","x":1118,"y":447},{"s":"c09","x":1128,"y":448},{"s":"c09","x":1138,"y":448.5},{"s":"c09","x":1148,"y":449.5},{"s":"c09","x":1158,"y":450},{"s":"c09","x":1168,"y":449.5},{"s":"c09","x":1178,"y":450},{"s":"c09","x":1188,"y":449},{"s":"c09","x":1198,"y":448.5},{"s":"c09","x":1208,"y":446.5},{"s":"c09","x":1213,"y":443},{"s":"c09","x":1216,"y":440},{"s":"c09","x":1220,"y":444},{"s":"c09","x":1226,"y":445.5},{"s":"c09","x":1236,"y":447},{"s":"c09","x":1246,"y":448.5},{"s":"c09","x":1256,"y":449.5},{"s":"c09","x":1266,"y":451},{"s":"c09","x":1276,"y":451.5},{"s":"c09","x":1286,"y":450.5},{"s":"c09","x":1290,"y":450},

{"s":"c08","x":762,"y":482},{"s":"c08","x":766,"y":486},{"s":"c08","x":772,"y":489},{"s":"c08","x":782,"y":490.5},{"s":"c08","x":792,"y":491.5},{"s":"c08","x":802,"y":492.5},{"s":"c08","x":812,"y":491.5},{"s":"c08","x":822,"y":492},{"s":"c08","x":832,"y":491},{"s":"c08","x":842,"y":490},{"s":"c08","x":850,"y":488.5},{"s":"c08","x":854,"y":485.5},{"s":"c08","x":857,"y":484.5},{"s":"c08","x":861,"y":489},{"s":"c08","x":866,"y":490.5},{"s":"c08","x":876,"y":491.5},{"s":"c08","x":886,"y":492},{"s":"c08","x":896,"y":491},{"s":"c08","x":906,"y":491.5},{"s":"c08","x":916,"y":490.5},{"s":"c08","x":926,"y":491},{"s":"c08","x":936,"y":490},{"s":"c08","x":946,"y":490.5},{"s":"c08","x":956,"y":489.5},{"s":"c08","x":966,"y":490},{"s":"c08","x":976,"y":489},{"s":"c08","x":986,"y":490},{"s":"c08","x":996,"y":490.5},{"s":"c08","x":1006,"y":491},{"s":"c08","x":1016,"y":490.5},{"s":"c08","x":1026,"y":490},{"s":"c08","x":1031,"y":487.5},{"s":"c08","x":1035,"y":484.5},{"s":"c08","x":1039,"y":489},{"s":"c08","x":1046,"y":490.5},{"s":"c08","x":1056,"y":491.5},{"s":"c08","x":1066,"y":491},{"s":"c08","x":1076,"y":490},{"s":"c08","x":1086,"y":489.5},{"s":"c08","x":1096,"y":490},{"s":"c08","x":1106,"y":490.5},{"s":"c08","x":1116,"y":491},{"s":"c08","x":1126,"y":492},{"s":"c08","x":1136,"y":493.5},{"s":"c08","x":1146,"y":494.5},{"s":"c08","x":1156,"y":495},{"s":"c08","x":1166,"y":493.5},{"s":"c08","x":1176,"y":492},{"s":"c08","x":1186,"y":491.5},{"s":"c08","x":1196,"y":490.5},{"s":"c08","x":1204,"y":489},{"s":"c08","x":1208,"y":485.5},{"s":"c08","x":1211,"y":483},{"s":"c08","x":1214,"y":487},{"s":"c08","x":1220,"y":488.5},{"s":"c08","x":1230,"y":490},{"s":"c08","x":1240,"y":491.5},{"s":"c08","x":1250,"y":492.5},{"s":"c08","x":1260,"y":494},{"s":"c08","x":1270,"y":493},{"s":"c08","x":1280,"y":492},{"s":"c08","x":1290,"y":491.5},

{"s":"c07","x":762,"y":525.5},{"s":"c07","x":772,"y":526},{"s":"c07","x":782,"y":525},{"s":"c07","x":792,"y":526.5},{"s":"c07","x":802,"y":525.5},{"s":"c07","x":812,"y":526.5},{"s":"c07","x":822,"y":526},{"s":"c07","x":832,"y":527},{"s":"c07","x":842,"y":526.5},{"s":"c07","x":850,"y":527.5},{"s":"c07","x":855,"y":530},{"s":"c07","x":858,"y":533.5},{"s":"c07","x":861,"y":529},{"s":"c07","x":866,"y":527.5},{"s":"c07","x":876,"y":526},{"s":"c07","x":886,"y":526.5},{"s":"c07","x":896,"y":525.5},{"s":"c07","x":906,"y":526},{"s":"c07","x":916,"y":525},{"s":"c07","x":926,"y":526},{"s":"c07","x":936,"y":526.5},{"s":"c07","x":946,"y":527},{"s":"c07","x":956,"y":526},{"s":"c07","x":966,"y":527},{"s":"c07","x":976,"y":526.5},{"s":"c07","x":986,"y":527},{"s":"c07","x":996,"y":526},{"s":"c07","x":1006,"y":526.5},{"s":"c07","x":1016,"y":527},{"s":"c07","x":1026,"y":527.5},{"s":"c07","x":1033,"y":529},{"s":"c07","x":1038,"y":535},{"s":"c07","x":1042,"y":530},{"s":"c07","x":1048,"y":527.5},{"s":"c07","x":1058,"y":526.5},{"s":"c07","x":1068,"y":526},{"s":"c07","x":1078,"y":525.5},{"s":"c07","x":1088,"y":526},{"s":"c07","x":1098,"y":526.5},{"s":"c07","x":1108,"y":527},{"s":"c07","x":1118,"y":526},{"s":"c07","x":1128,"y":526.5},{"s":"c07","x":1138,"y":527},{"s":"c07","x":1148,"y":526},{"s":"c07","x":1158,"y":525.5},{"s":"c07","x":1168,"y":526.5},{"s":"c07","x":1178,"y":527},{"s":"c07","x":1188,"y":526.5},{"s":"c07","x":1198,"y":527},{"s":"c07","x":1208,"y":527.5},{"s":"c07","x":1213,"y":530},{"s":"c07","x":1216,"y":535},{"s":"c07","x":1220,"y":530},{"s":"c07","x":1226,"y":527},{"s":"c07","x":1236,"y":525.5},{"s":"c07","x":1246,"y":525},{"s":"c07","x":1256,"y":526},{"s":"c07","x":1266,"y":525.5},{"s":"c07","x":1276,"y":526},{"s":"c07","x":1284,"y":527},{"s":"c07","x":1290,"y":528},

{"s":"c06","x":762,"y":568.5},{"s":"c06","x":772,"y":567},{"s":"c06","x":782,"y":566.5},{"s":"c06","x":792,"y":565},{"s":"c06","x":796,"y":563.5},{"s":"c06","x":800,"y":566},{"s":"c06","x":810,"y":566.5},{"s":"c06","x":820,"y":565.5},{"s":"c06","x":830,"y":566},{"s":"c06","x":840,"y":565},{"s":"c06","x":848,"y":566.5},{"s":"c06","x":853,"y":570},{"s":"c06","x":857,"y":576.5},{"s":"c06","x":860,"y":573},{"s":"c06","x":864,"y":566},{"s":"c06","x":868,"y":563.5},{"s":"c06","x":876,"y":563},{"s":"c06","x":886,"y":564.5},{"s":"c06","x":896,"y":565},{"s":"c06","x":906,"y":564.5},{"s":"c06","x":916,"y":565.5},{"s":"c06","x":926,"y":564.5},{"s":"c06","x":936,"y":565},{"s":"c06","x":946,"y":565.5},{"s":"c06","x":956,"y":564.5},{"s":"c06","x":966,"y":565},{"s":"c06","x":976,"y":564},{"s":"c06","x":986,"y":565},{"s":"c06","x":996,"y":564.5},{"s":"c06","x":1006,"y":565},{"s":"c06","x":1016,"y":565.5},{"s":"c06","x":1026,"y":565},{"s":"c06","x":1032,"y":568},{"s":"c06","x":1037,"y":580},{"s":"c06","x":1041,"y":572},{"s":"c06","x":1046,"y":566},{"s":"c06","x":1056,"y":565},{"s":"c06","x":1066,"y":564.5},{"s":"c06","x":1076,"y":565},{"s":"c06","x":1086,"y":564},{"s":"c06","x":1096,"y":564.5},{"s":"c06","x":1106,"y":565.5},{"s":"c06","x":1116,"y":565},{"s":"c06","x":1126,"y":564},{"s":"c06","x":1136,"y":564.5},{"s":"c06","x":1146,"y":565},{"s":"c06","x":1156,"y":565.5},{"s":"c06","x":1166,"y":564.5},{"s":"c06","x":1176,"y":565},{"s":"c06","x":1186,"y":564.5},{"s":"c06","x":1196,"y":565},{"s":"c06","x":1206,"y":565.5},{"s":"c06","x":1211,"y":570},{"s":"c06","x":1214,"y":578.5},{"s":"c06","x":1218,"y":572},{"s":"c06","x":1222,"y":567},{"s":"c06","x":1232,"y":565},{"s":"c06","x":1242,"y":564},{"s":"c06","x":1252,"y":563.5},{"s":"c06","x":1262,"y":562.5},{"s":"c06","x":1268,"y":561.5},{"s":"c06","x":1276,"y":563.5},{"s":"c06","x":1284,"y":566},{"s":"c06","x":1290,"y":568},

{"s":"c05","x":762,"y":608.5},{"s":"c05","x":772,"y":609},{"s":"c05","x":782,"y":608},{"s":"c05","x":792,"y":609.5},{"s":"c05","x":802,"y":608.5},{"s":"c05","x":812,"y":609},{"s":"c05","x":822,"y":607.5},{"s":"c05","x":832,"y":608.5},{"s":"c05","x":842,"y":607.5},{"s":"c05","x":852,"y":607},{"s":"c05","x":858,"y":603.5},{"s":"c05","x":862,"y":607},{"s":"c05","x":870,"y":608.5},{"s":"c05","x":880,"y":609},{"s":"c05","x":890,"y":608},{"s":"c05","x":900,"y":609.5},{"s":"c05","x":910,"y":608.5},{"s":"c05","x":920,"y":609},{"s":"c05","x":930,"y":608},{"s":"c05","x":940,"y":608.5},{"s":"c05","x":950,"y":607.5},{"s":"c05","x":960,"y":608},{"s":"c05","x":970,"y":609},{"s":"c05","x":980,"y":608},{"s":"c05","x":990,"y":608.5},{"s":"c05","x":1000,"y":607.5},{"s":"c05","x":1010,"y":608},{"s":"c05","x":1020,"y":607},{"s":"c05","x":1030,"y":607.5},{"s":"c05","x":1038,"y":603.5},{"s":"c05","x":1042,"y":607.5},{"s":"c05","x":1050,"y":608.5},{"s":"c05","x":1060,"y":609},{"s":"c05","x":1070,"y":608},{"s":"c05","x":1080,"y":609},{"s":"c05","x":1090,"y":608.5},{"s":"c05","x":1100,"y":609.5},{"s":"c05","x":1110,"y":608.5},{"s":"c05","x":1120,"y":609},{"s":"c05","x":1130,"y":608},{"s":"c05","x":1140,"y":608.5},{"s":"c05","x":1150,"y":609},{"s":"c05","x":1160,"y":608},{"s":"c05","x":1170,"y":608.5},{"s":"c05","x":1180,"y":609},{"s":"c05","x":1190,"y":608},{"s":"c05","x":1200,"y":608.5},{"s":"c05","x":1210,"y":607.5},{"s":"c05","x":1216,"y":603.5},{"s":"c05","x":1220,"y":607.5},{"s":"c05","x":1228,"y":608.5},{"s":"c05","x":1238,"y":609},{"s":"c05","x":1248,"y":608},{"s":"c05","x":1258,"y":609},{"s":"c05","x":1268,"y":608.5},{"s":"c05","x":1278,"y":609.5},{"s":"c05","x":1290,"y":609}
],
"sines":[
{"s":"bs","x":212,"y":79},{"s":"bs","x":233.9,"y":64.2},{"s":"bs","x":255.8,"y":58},{"s":"bs","x":277.6,"y":64.2},{"s":"bs","x":299.5,"y":79},{"s":"bs","x":321.4,"y":93.8},{"s":"bs","x":343.3,"y":100},{"s":"bs","x":365.1,"y":93.8},{"s":"bs","x":387,"y":79},{"s":"bs","x":408.9,"y":64.2},{"s":"bs","x":430.8,"y":58},{"s":"bs","x":452.6,"y":64.2},{"s":"bs","x":474.5,"y":79},{"s":"bs","x":496.4,"y":93.8},{"s":"bs","x":518.3,"y":100},{"s":"bs","x":540.1,"y":93.8},{"s":"bs","x":562,"y":79},{"s":"bs","x":583.9,"y":64.2},{"s":"bs","x":605.8,"y":58},{"s":"bs","x":627.6,"y":64.2},{"s":"bs","x":649.5,"y":79},{"s":"bs","x":671.4,"y":93.8},{"s":"bs","x":693.3,"y":100},{"s":"bs","x":715.1,"y":93.8},{"s":"bs","x":737,"y":79},
{"s":"cs","x":762,"y":78},{"s":"cs","x":783.9,"y":63.2},{"s":"cs","x":805.8,"y":57},{"s":"cs","x":827.6,"y":63.2},{"s":"cs","x":849.5,"y":78},{"s":"cs","x":871.4,"y":92.8},{"s":"cs","x":893.3,"y":99},{"s":"cs","x":915.1,"y":92.8},{"s":"cs","x":937,"y":78},{"s":"cs","x":958.9,"y":63.2},{"s":"cs","x":980.8,"y":57},{"s":"cs","x":1002.6,"y":63.2},{"s":"cs","x":1024.5,"y":78},{"s":"cs","x":1046.4,"y":92.8},{"s":"cs","x":1068.3,"y":99},{"s":"cs","x":1090.1,"y":92.8},{"s":"cs","x":1112,"y":78},{"s":"cs","x":1133.9,"y":63.2},{"s":"cs","x":1155.8,"y":57},{"s":"cs","x":1177.6,"y":63.2},{"s":"cs","x":1199.5,"y":78},{"s":"cs","x":1221.4,"y":92.8},{"s":"cs","x":1243.3,"y":99},{"s":"cs","x":1265.1,"y":92.8},{"s":"cs","x":1287,"y":78}
],
"rules":[
{"x":208,"y":79,"x2":737,"y2":79},
{"x":762,"y":78,"x2":1287,"y2":78},
{"x":1330,"y":113,"x2":1330,"y2":498},
{"x":1318,"y":113,"x2":1342,"y2":113},
{"x":1318,"y":498,"x2":1342,"y2":498},
{"x":1330,"y":585,"x2":1330,"y2":669},
{"x":1318,"y":585,"x2":1342,"y2":585},
{"x":1318,"y":669,"x2":1342,"y2":669},
{"x":147,"y":692,"x2":189,"y2":692},
{"x":780,"y":690,"x2":824,"y2":690},
{"x":882,"y":663,"x2":882,"y2":706}
],
"marker":[{"x":77.5,"y":103}],
"titles":[
{"t":"A","x":18.5,"y":31.5},{"t":"Normal Ringer","x":120,"y":31.5},{"t":"B","x":218,"y":31.5},{"t":"Normal Ringer","x":463,"y":31.5},{"t":"C","x":769,"y":31.5},{"t":"Kyna","x":994,"y":31.5}
],
"depths":[
{"t":"1700","x":43,"y":118},{"t":"1600","x":43,"y":160.5},{"t":"1500","x":43,"y":199},{"t":"1400","x":43,"y":243},{"t":"1300","x":43,"y":283},{"t":"1200","x":43,"y":322},{"t":"1100","x":43,"y":367},{"t":"1000","x":43,"y":407},{"t":"900","x":43,"y":448},{"t":"800","x":43,"y":492},{"t":"700","x":43,"y":528},{"t":"600","x":43,"y":561},{"t":"500","x":43,"y":622},{"t":"400","x":43,"y":655}
],
"labels16":[
{"t":"applied field","x":97.5,"y":54},{"t":"pulse","x":74.5,"y":87},{"t":"sinusoid","x":178,"y":80},{"t":"ventral surface","x":66,"y":680},{"t":"10 ms","x":168,"y":709},{"t":"40 ms","x":805,"y":705},{"t":"ml","x":1350,"y":300},{"t":"Pcl","x":1345,"y":543},{"t":"gl","x":1349,"y":632}
],
"labels15":[
{"t":"d-v","x":338,"y":65},{"t":"d-v","x":514,"y":65},{"t":"d-v","x":688,"y":65},{"t":"v-d","x":258,"y":92},{"t":"v-d","x":431,"y":92},{"t":"v-d","x":605,"y":92},
{"t":"d-v","x":890,"y":65},{"t":"d-v","x":1061,"y":65},{"t":"v-d","x":983,"y":92},
{"t":"b0","x":92.5,"y":466},{"t":"b1","x":115,"y":471},{"t":"a","x":82.5,"y":518},{"t":"c","x":126.5,"y":508},
{"t":"b1","x":513,"y":465},{"t":"b0","x":497,"y":513},{"t":"c","x":531.5,"y":532},{"t":"d","x":418,"y":548},{"t":"a","x":485,"y":550},{"t":"a","x":854,"y":552}
],
"leftlabels":[
{"t":"source","x":888,"y":650},{"t":"sink","x":888,"y":711},{"t":"40,000 A/m³ sinusoid","x":972,"y":663},{"t":"60,000 A/m³ pulse","x":972,"y":700}
],
"signs":[{"t":"+","x":880,"y":652},{"t":"-","x":880,"y":710}]
},
"layer":[
{"data":{"name":"traces"},"mark":{"type":"line","strokeWidth":2.1,"color":"#000","strokeJoin":"round","strokeCap":"round"},"encoding":{"detail":{"field":"s"}}},
{"data":{"name":"sines"},"mark":{"type":"line","strokeWidth":2,"color":"#000","interpolate":"monotone"},"encoding":{"detail":{"field":"s"}}},
{"data":{"name":"rules"},"mark":{"type":"rule","strokeWidth":2,"color":"#000"},"encoding":{"x2":{"field":"x2"},"y2":{"field":"y2"}}},
{"data":{"name":"marker"},"mark":{"type":"point","shape":"triangle-down","filled":true,"size":110,"color":"#000","opacity":1},"encoding":{}},
{"data":{"name":"titles"},"mark":{"type":"text","fontSize":22,"align":"center","baseline":"alphabetic"},"encoding":{"text":{"field":"t"}}},
{"data":{"name":"depths"},"mark":{"type":"text","fontSize":16,"align":"right","baseline":"middle"},"encoding":{"text":{"field":"t"}}},
{"data":{"name":"labels16"},"mark":{"type":"text","fontSize":16,"align":"center","baseline":"middle"},"encoding":{"text":{"field":"t"}}},
{"data":{"name":"labels15"},"mark":{"type":"text","fontSize":15,"align":"center","baseline":"middle"},"encoding":{"text":{"field":"t"}}},
{"data":{"name":"leftlabels"},"mark":{"type":"text","fontSize":16,"align":"left","baseline":"middle"},"encoding":{"text":{"field":"t"}}},
{"data":{"name":"signs"},"mark":{"type":"text","fontSize":13,"align":"center","baseline":"middle"},"encoding":{"text":{"field":"t"}}}
]
}
